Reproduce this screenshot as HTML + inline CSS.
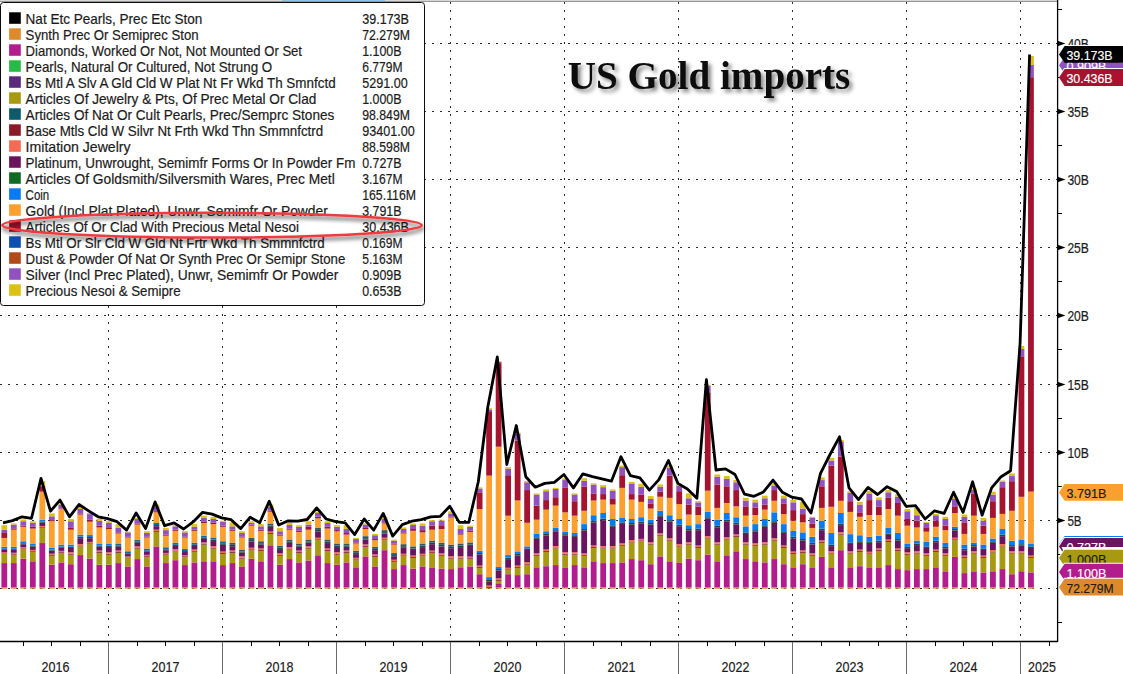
<!DOCTYPE html>
<html><head><meta charset="utf-8"><title>US Gold imports</title>
<style>html,body{margin:0;padding:0;background:#fff;}body{width:1123px;height:674px;overflow:hidden;}svg{display:block;font-family:"Liberation Sans",sans-serif;}.t{font-size:14.1px;fill:#1c1c1c;stroke:#1c1c1c;stroke-width:0.2px;}.w{font-size:13px;fill:#fff;}.ttl{font-family:"Liberation Serif",serif;font-weight:bold;font-size:40px;fill:#0a0a0a;}</style></head><body>
<svg width="1123" height="674" viewBox="0 0 1123 674">
<defs><filter id="ts" x="-10%" y="-30%" width="125%" height="170%"><feGaussianBlur in="SourceAlpha" stdDeviation="2.2"/><feOffset dx="3" dy="3.2" result="b"/><feComponentTransfer><feFuncA type="linear" slope="0.5"/></feComponentTransfer><feMerge><feMergeNode/><feMergeNode in="SourceGraphic"/></feMerge></filter><filter id="es" x="-5%" y="-40%" width="110%" height="200%"><feGaussianBlur in="SourceAlpha" stdDeviation="2.1"/><feOffset dx="1" dy="3.4" result="b"/><feComponentTransfer><feFuncA type="linear" slope="0.72"/></feComponentTransfer><feMerge><feMergeNode/><feMergeNode in="SourceGraphic"/></feMerge></filter></defs>
<rect width="1123" height="674" fill="#fff"/>
<rect x="0" y="0" width="1123" height="1" fill="#d6d6d6"/><rect x="282" y="0" width="103" height="1" fill="#8cc4ec"/><rect x="0" y="1" width="1123" height="0.9" fill="#8c8c8c"/>
<g stroke="#2e2e2e" stroke-width="1" stroke-dasharray="2 6" fill="none" shape-rendering="crispEdges">
<line x1="0" y1="588.5" x2="1057.6" y2="588.5"/>
<line x1="0" y1="520.5" x2="1057.6" y2="520.5"/>
<line x1="0" y1="452.5" x2="1057.6" y2="452.5"/>
<line x1="0" y1="384.5" x2="1057.6" y2="384.5"/>
<line x1="0" y1="315.5" x2="1057.6" y2="315.5"/>
<line x1="0" y1="247.5" x2="1057.6" y2="247.5"/>
<line x1="0" y1="179.5" x2="1057.6" y2="179.5"/>
<line x1="0" y1="111.5" x2="1057.6" y2="111.5"/>
<line x1="0" y1="43.5" x2="1057.6" y2="43.5"/>
<line x1="108.5" y1="2" x2="108.5" y2="641.5"/>
<line x1="222.5" y1="2" x2="222.5" y2="641.5"/>
<line x1="336.5" y1="2" x2="336.5" y2="641.5"/>
<line x1="450.5" y1="2" x2="450.5" y2="641.5"/>
<line x1="564.5" y1="2" x2="564.5" y2="641.5"/>
<line x1="678.5" y1="2" x2="678.5" y2="641.5"/>
<line x1="792.5" y1="2" x2="792.5" y2="641.5"/>
<line x1="906.5" y1="2" x2="906.5" y2="641.5"/>
<line x1="1020.5" y1="2" x2="1020.5" y2="641.5"/>
</g>
<g>
<rect x="1.40" y="563.08" width="5.8" height="24.52" fill="#b21c8c"/>
<rect x="1.40" y="587.60" width="5.8" height="1.10" fill="#de8a2a"/>
<rect x="1.40" y="553.96" width="5.8" height="9.13" fill="#a89a10"/>
<rect x="1.40" y="553.34" width="5.8" height="0.61" fill="#8a1a28"/>
<rect x="1.40" y="552.32" width="5.8" height="1.02" fill="#f46a54"/>
<rect x="1.40" y="549.71" width="5.8" height="2.61" fill="#6a1460"/>
<rect x="1.40" y="548.84" width="5.8" height="0.87" fill="#23472c"/>
<rect x="1.40" y="546.83" width="5.8" height="2.00" fill="#0a7af0"/>
<rect x="1.40" y="537.93" width="5.8" height="8.90" fill="#fba02e"/>
<rect x="1.40" y="533.03" width="5.8" height="4.90" fill="#a5142f"/>
<rect x="1.40" y="529.70" width="5.8" height="3.34" fill="#9152c0"/>
<rect x="1.40" y="525.24" width="5.8" height="4.45" fill="#dcc112"/>
<rect x="10.91" y="563.08" width="5.8" height="24.52" fill="#b21c8c"/>
<rect x="10.91" y="587.60" width="5.8" height="1.10" fill="#de8a2a"/>
<rect x="10.91" y="554.62" width="5.8" height="8.46" fill="#a89a10"/>
<rect x="10.91" y="553.93" width="5.8" height="0.69" fill="#8a1a28"/>
<rect x="10.91" y="552.77" width="5.8" height="1.16" fill="#f46a54"/>
<rect x="10.91" y="549.82" width="5.8" height="2.95" fill="#6a1460"/>
<rect x="10.91" y="548.84" width="5.8" height="0.98" fill="#1f4f4c"/>
<rect x="10.91" y="546.83" width="5.8" height="2.00" fill="#0a7af0"/>
<rect x="10.91" y="529.70" width="5.8" height="17.14" fill="#fba02e"/>
<rect x="10.91" y="528.36" width="5.8" height="1.34" fill="#a5142f"/>
<rect x="10.91" y="524.58" width="5.8" height="3.78" fill="#9152c0"/>
<rect x="10.91" y="523.46" width="5.8" height="1.11" fill="#dcc112"/>
<rect x="20.41" y="558.63" width="5.8" height="28.97" fill="#b21c8c"/>
<rect x="20.41" y="587.60" width="5.8" height="1.10" fill="#de8a2a"/>
<rect x="20.41" y="549.06" width="5.8" height="9.57" fill="#a89a10"/>
<rect x="20.41" y="548.36" width="5.8" height="0.69" fill="#8a1a28"/>
<rect x="20.41" y="547.21" width="5.8" height="1.16" fill="#f46a54"/>
<rect x="20.41" y="544.26" width="5.8" height="2.95" fill="#6a1460"/>
<rect x="20.41" y="543.27" width="5.8" height="0.98" fill="#1f4f4c"/>
<rect x="20.41" y="541.27" width="5.8" height="2.00" fill="#0a7af0"/>
<rect x="20.41" y="526.80" width="5.8" height="14.47" fill="#fba02e"/>
<rect x="20.41" y="525.69" width="5.8" height="1.11" fill="#a5142f"/>
<rect x="20.41" y="521.24" width="5.8" height="4.45" fill="#9152c0"/>
<rect x="20.41" y="519.46" width="5.8" height="1.78" fill="#dcc112"/>
<rect x="29.92" y="561.30" width="5.8" height="26.30" fill="#b21c8c"/>
<rect x="29.92" y="587.60" width="5.8" height="1.10" fill="#de8a2a"/>
<rect x="29.92" y="551.95" width="5.8" height="9.35" fill="#a89a10"/>
<rect x="29.92" y="551.18" width="5.8" height="0.77" fill="#8a1a28"/>
<rect x="29.92" y="549.89" width="5.8" height="1.29" fill="#f46a54"/>
<rect x="29.92" y="546.59" width="5.8" height="3.29" fill="#6a1460"/>
<rect x="29.92" y="545.50" width="5.8" height="1.10" fill="#23472c"/>
<rect x="29.92" y="543.49" width="5.8" height="2.00" fill="#0a7af0"/>
<rect x="29.92" y="528.58" width="5.8" height="14.91" fill="#fba02e"/>
<rect x="29.92" y="526.80" width="5.8" height="1.78" fill="#a5142f"/>
<rect x="29.92" y="522.80" width="5.8" height="4.01" fill="#9152c0"/>
<rect x="29.92" y="521.24" width="5.8" height="1.56" fill="#dcc112"/>
<rect x="39.42" y="543.05" width="5.8" height="44.55" fill="#b21c8c"/>
<rect x="39.42" y="587.60" width="5.8" height="1.10" fill="#de8a2a"/>
<rect x="39.42" y="527.91" width="5.8" height="15.13" fill="#a89a10"/>
<rect x="39.42" y="527.17" width="5.8" height="0.75" fill="#8a1a28"/>
<rect x="39.42" y="525.92" width="5.8" height="1.25" fill="#f46a54"/>
<rect x="39.42" y="522.74" width="5.8" height="3.18" fill="#6a1460"/>
<rect x="39.42" y="521.68" width="5.8" height="1.06" fill="#1f4f4c"/>
<rect x="39.42" y="519.68" width="5.8" height="2.00" fill="#0a7af0"/>
<rect x="39.42" y="491.64" width="5.8" height="28.04" fill="#fba02e"/>
<rect x="39.42" y="486.74" width="5.8" height="4.90" fill="#a5142f"/>
<rect x="39.42" y="485.63" width="5.8" height="1.11" fill="#9152c0"/>
<rect x="39.42" y="481.18" width="5.8" height="4.45" fill="#dcc112"/>
<rect x="48.93" y="564.64" width="5.8" height="22.96" fill="#b21c8c"/>
<rect x="48.93" y="587.60" width="5.8" height="1.10" fill="#de8a2a"/>
<rect x="48.93" y="555.74" width="5.8" height="8.90" fill="#a89a10"/>
<rect x="48.93" y="554.99" width="5.8" height="0.75" fill="#8a1a28"/>
<rect x="48.93" y="553.74" width="5.8" height="1.25" fill="#f46a54"/>
<rect x="48.93" y="550.56" width="5.8" height="3.18" fill="#6a1460"/>
<rect x="48.93" y="549.50" width="5.8" height="1.06" fill="#1f4f4c"/>
<rect x="48.93" y="547.50" width="5.8" height="2.00" fill="#0a7af0"/>
<rect x="48.93" y="521.24" width="5.8" height="26.26" fill="#fba02e"/>
<rect x="48.93" y="520.12" width="5.8" height="1.11" fill="#a5142f"/>
<rect x="48.93" y="516.34" width="5.8" height="3.78" fill="#9152c0"/>
<rect x="48.93" y="513.45" width="5.8" height="2.89" fill="#dcc112"/>
<rect x="58.44" y="562.41" width="5.8" height="25.19" fill="#b21c8c"/>
<rect x="58.44" y="587.60" width="5.8" height="1.10" fill="#de8a2a"/>
<rect x="58.44" y="552.84" width="5.8" height="9.57" fill="#a89a10"/>
<rect x="58.44" y="552.09" width="5.8" height="0.75" fill="#8a1a28"/>
<rect x="58.44" y="550.85" width="5.8" height="1.25" fill="#f46a54"/>
<rect x="58.44" y="547.67" width="5.8" height="3.18" fill="#6a1460"/>
<rect x="58.44" y="546.61" width="5.8" height="1.06" fill="#23472c"/>
<rect x="58.44" y="544.61" width="5.8" height="2.00" fill="#0a7af0"/>
<rect x="58.44" y="509.00" width="5.8" height="35.61" fill="#fba02e"/>
<rect x="58.44" y="508.55" width="5.8" height="0.45" fill="#a5142f"/>
<rect x="58.44" y="504.54" width="5.8" height="4.01" fill="#9152c0"/>
<rect x="58.44" y="503.43" width="5.8" height="1.11" fill="#dcc112"/>
<rect x="67.94" y="564.19" width="5.8" height="23.41" fill="#b21c8c"/>
<rect x="67.94" y="587.60" width="5.8" height="1.10" fill="#de8a2a"/>
<rect x="67.94" y="554.62" width="5.8" height="9.57" fill="#a89a10"/>
<rect x="67.94" y="553.72" width="5.8" height="0.90" fill="#8a1a28"/>
<rect x="67.94" y="552.22" width="5.8" height="1.50" fill="#f46a54"/>
<rect x="67.94" y="547.97" width="5.8" height="4.25" fill="#6a1460"/>
<rect x="67.94" y="546.61" width="5.8" height="1.36" fill="#1f4f4c"/>
<rect x="67.94" y="544.61" width="5.8" height="2.00" fill="#0a7af0"/>
<rect x="67.94" y="529.70" width="5.8" height="14.91" fill="#fba02e"/>
<rect x="67.94" y="527.91" width="5.8" height="1.78" fill="#a5142f"/>
<rect x="67.94" y="521.24" width="5.8" height="6.68" fill="#9152c0"/>
<rect x="67.94" y="519.01" width="5.8" height="2.23" fill="#dcc112"/>
<rect x="77.45" y="555.07" width="5.8" height="32.53" fill="#b21c8c"/>
<rect x="77.45" y="587.60" width="5.8" height="1.10" fill="#de8a2a"/>
<rect x="77.45" y="546.39" width="5.8" height="8.68" fill="#a89a10"/>
<rect x="77.45" y="545.49" width="5.8" height="0.90" fill="#8a1a28"/>
<rect x="77.45" y="543.99" width="5.8" height="1.50" fill="#f46a54"/>
<rect x="77.45" y="538.19" width="5.8" height="5.79" fill="#6a1460"/>
<rect x="77.45" y="536.59" width="5.8" height="1.60" fill="#1f4f4c"/>
<rect x="77.45" y="534.59" width="5.8" height="2.00" fill="#0a7af0"/>
<rect x="77.45" y="514.56" width="5.8" height="20.03" fill="#fba02e"/>
<rect x="77.45" y="513.45" width="5.8" height="1.11" fill="#a5142f"/>
<rect x="77.45" y="509.00" width="5.8" height="4.45" fill="#9152c0"/>
<rect x="77.45" y="506.77" width="5.8" height="2.23" fill="#dcc112"/>
<rect x="86.95" y="558.63" width="5.8" height="28.97" fill="#b21c8c"/>
<rect x="86.95" y="587.60" width="5.8" height="1.10" fill="#de8a2a"/>
<rect x="86.95" y="544.16" width="5.8" height="14.47" fill="#a89a10"/>
<rect x="86.95" y="543.31" width="5.8" height="0.85" fill="#8a1a28"/>
<rect x="86.95" y="541.88" width="5.8" height="1.42" fill="#f46a54"/>
<rect x="86.95" y="538.25" width="5.8" height="3.63" fill="#6a1460"/>
<rect x="86.95" y="537.04" width="5.8" height="1.21" fill="#23472c"/>
<rect x="86.95" y="535.04" width="5.8" height="2.00" fill="#0a7af0"/>
<rect x="86.95" y="521.68" width="5.8" height="13.35" fill="#fba02e"/>
<rect x="86.95" y="519.46" width="5.8" height="2.23" fill="#a5142f"/>
<rect x="86.95" y="514.12" width="5.8" height="5.34" fill="#9152c0"/>
<rect x="86.95" y="513.00" width="5.8" height="1.11" fill="#dcc112"/>
<rect x="96.46" y="564.64" width="5.8" height="22.96" fill="#b21c8c"/>
<rect x="96.46" y="587.60" width="5.8" height="1.10" fill="#de8a2a"/>
<rect x="96.46" y="552.84" width="5.8" height="11.80" fill="#a89a10"/>
<rect x="96.46" y="551.96" width="5.8" height="0.88" fill="#8a1a28"/>
<rect x="96.46" y="550.49" width="5.8" height="1.47" fill="#f46a54"/>
<rect x="96.46" y="546.75" width="5.8" height="3.75" fill="#6a1460"/>
<rect x="96.46" y="545.50" width="5.8" height="1.25" fill="#1f4f4c"/>
<rect x="96.46" y="543.49" width="5.8" height="2.00" fill="#0a7af0"/>
<rect x="96.46" y="527.47" width="5.8" height="16.02" fill="#fba02e"/>
<rect x="96.46" y="525.69" width="5.8" height="1.78" fill="#a5142f"/>
<rect x="96.46" y="520.79" width="5.8" height="4.90" fill="#9152c0"/>
<rect x="96.46" y="519.01" width="5.8" height="1.78" fill="#dcc112"/>
<rect x="105.97" y="564.64" width="5.8" height="22.96" fill="#b21c8c"/>
<rect x="105.97" y="587.60" width="5.8" height="1.10" fill="#de8a2a"/>
<rect x="105.97" y="554.62" width="5.8" height="10.02" fill="#a89a10"/>
<rect x="105.97" y="553.72" width="5.8" height="0.90" fill="#8a1a28"/>
<rect x="105.97" y="552.22" width="5.8" height="1.50" fill="#f46a54"/>
<rect x="105.97" y="547.05" width="5.8" height="5.17" fill="#6a1460"/>
<rect x="105.97" y="545.50" width="5.8" height="1.55" fill="#1f4f4c"/>
<rect x="105.97" y="543.49" width="5.8" height="2.00" fill="#0a7af0"/>
<rect x="105.97" y="529.03" width="5.8" height="14.47" fill="#fba02e"/>
<rect x="105.97" y="527.25" width="5.8" height="1.78" fill="#a5142f"/>
<rect x="105.97" y="522.80" width="5.8" height="4.45" fill="#9152c0"/>
<rect x="105.97" y="521.24" width="5.8" height="1.56" fill="#dcc112"/>
<rect x="115.47" y="563.08" width="5.8" height="24.52" fill="#b21c8c"/>
<rect x="115.47" y="587.60" width="5.8" height="1.10" fill="#de8a2a"/>
<rect x="115.47" y="552.84" width="5.8" height="10.24" fill="#a89a10"/>
<rect x="115.47" y="551.96" width="5.8" height="0.88" fill="#8a1a28"/>
<rect x="115.47" y="550.49" width="5.8" height="1.47" fill="#f46a54"/>
<rect x="115.47" y="546.75" width="5.8" height="3.75" fill="#6a1460"/>
<rect x="115.47" y="545.50" width="5.8" height="1.25" fill="#23472c"/>
<rect x="115.47" y="543.49" width="5.8" height="2.00" fill="#0f6c98"/>
<rect x="115.47" y="533.48" width="5.8" height="10.02" fill="#fba02e"/>
<rect x="115.47" y="532.37" width="5.8" height="1.11" fill="#a5142f"/>
<rect x="115.47" y="527.91" width="5.8" height="4.45" fill="#9152c0"/>
<rect x="115.47" y="524.13" width="5.8" height="3.78" fill="#dcc112"/>
<rect x="124.98" y="566.42" width="5.8" height="21.18" fill="#b21c8c"/>
<rect x="124.98" y="587.60" width="5.8" height="1.10" fill="#de8a2a"/>
<rect x="124.98" y="557.96" width="5.8" height="8.46" fill="#a89a10"/>
<rect x="124.98" y="557.40" width="5.8" height="0.56" fill="#8a1a28"/>
<rect x="124.98" y="556.47" width="5.8" height="0.93" fill="#f46a54"/>
<rect x="124.98" y="554.08" width="5.8" height="2.38" fill="#6a1460"/>
<rect x="124.98" y="553.29" width="5.8" height="0.79" fill="#1f4f4c"/>
<rect x="124.98" y="551.28" width="5.8" height="2.00" fill="#0f6c98"/>
<rect x="124.98" y="537.48" width="5.8" height="13.80" fill="#fba02e"/>
<rect x="124.98" y="536.82" width="5.8" height="0.67" fill="#a5142f"/>
<rect x="124.98" y="532.37" width="5.8" height="4.45" fill="#9152c0"/>
<rect x="124.98" y="531.70" width="5.8" height="0.67" fill="#dcc112"/>
<rect x="134.48" y="559.07" width="5.8" height="28.53" fill="#b21c8c"/>
<rect x="134.48" y="587.60" width="5.8" height="1.10" fill="#de8a2a"/>
<rect x="134.48" y="548.61" width="5.8" height="10.46" fill="#a89a10"/>
<rect x="134.48" y="547.79" width="5.8" height="0.83" fill="#8a1a28"/>
<rect x="134.48" y="546.41" width="5.8" height="1.38" fill="#f46a54"/>
<rect x="134.48" y="542.89" width="5.8" height="3.52" fill="#6a1460"/>
<rect x="134.48" y="541.71" width="5.8" height="1.17" fill="#1f4f4c"/>
<rect x="134.48" y="539.71" width="5.8" height="2.00" fill="#0f6c98"/>
<rect x="134.48" y="524.58" width="5.8" height="15.13" fill="#fba02e"/>
<rect x="134.48" y="523.46" width="5.8" height="1.11" fill="#a5142f"/>
<rect x="134.48" y="519.01" width="5.8" height="4.45" fill="#9152c0"/>
<rect x="134.48" y="517.90" width="5.8" height="1.11" fill="#dcc112"/>
<rect x="143.99" y="566.42" width="5.8" height="21.18" fill="#b21c8c"/>
<rect x="143.99" y="587.60" width="5.8" height="1.10" fill="#de8a2a"/>
<rect x="143.99" y="556.85" width="5.8" height="9.57" fill="#a89a10"/>
<rect x="143.99" y="556.10" width="5.8" height="0.75" fill="#8a1a28"/>
<rect x="143.99" y="554.85" width="5.8" height="1.25" fill="#f46a54"/>
<rect x="143.99" y="551.68" width="5.8" height="3.18" fill="#6a1460"/>
<rect x="143.99" y="550.62" width="5.8" height="1.06" fill="#23472c"/>
<rect x="143.99" y="548.61" width="5.8" height="2.00" fill="#0f6c98"/>
<rect x="143.99" y="537.48" width="5.8" height="11.13" fill="#fba02e"/>
<rect x="143.99" y="536.82" width="5.8" height="0.67" fill="#a5142f"/>
<rect x="143.99" y="532.81" width="5.8" height="4.01" fill="#9152c0"/>
<rect x="143.99" y="531.25" width="5.8" height="1.56" fill="#dcc112"/>
<rect x="153.50" y="546.39" width="5.8" height="41.21" fill="#b21c8c"/>
<rect x="153.50" y="587.60" width="5.8" height="1.10" fill="#de8a2a"/>
<rect x="153.50" y="531.92" width="5.8" height="14.47" fill="#a89a10"/>
<rect x="153.50" y="531.09" width="5.8" height="0.83" fill="#8a1a28"/>
<rect x="153.50" y="529.71" width="5.8" height="1.38" fill="#f46a54"/>
<rect x="153.50" y="526.19" width="5.8" height="3.52" fill="#6a1460"/>
<rect x="153.50" y="525.02" width="5.8" height="1.17" fill="#1f4f4c"/>
<rect x="153.50" y="523.02" width="5.8" height="2.00" fill="#0f6c98"/>
<rect x="153.50" y="512.33" width="5.8" height="10.68" fill="#fba02e"/>
<rect x="153.50" y="511.22" width="5.8" height="1.11" fill="#a5142f"/>
<rect x="153.50" y="506.33" width="5.8" height="4.90" fill="#9152c0"/>
<rect x="153.50" y="504.54" width="5.8" height="1.78" fill="#dcc112"/>
<rect x="163.00" y="563.08" width="5.8" height="24.52" fill="#b21c8c"/>
<rect x="163.00" y="587.60" width="5.8" height="1.10" fill="#de8a2a"/>
<rect x="163.00" y="554.62" width="5.8" height="8.46" fill="#a89a10"/>
<rect x="163.00" y="553.98" width="5.8" height="0.64" fill="#8a1a28"/>
<rect x="163.00" y="552.91" width="5.8" height="1.07" fill="#f46a54"/>
<rect x="163.00" y="550.19" width="5.8" height="2.72" fill="#6a1460"/>
<rect x="163.00" y="549.28" width="5.8" height="0.91" fill="#1f4f4c"/>
<rect x="163.00" y="547.28" width="5.8" height="2.00" fill="#0f6c98"/>
<rect x="163.00" y="535.70" width="5.8" height="11.57" fill="#fba02e"/>
<rect x="163.00" y="534.59" width="5.8" height="1.11" fill="#a5142f"/>
<rect x="163.00" y="530.14" width="5.8" height="4.45" fill="#9152c0"/>
<rect x="163.00" y="527.91" width="5.8" height="2.23" fill="#dcc112"/>
<rect x="172.51" y="560.19" width="5.8" height="27.41" fill="#b21c8c"/>
<rect x="172.51" y="587.60" width="5.8" height="1.10" fill="#de8a2a"/>
<rect x="172.51" y="551.28" width="5.8" height="8.90" fill="#a89a10"/>
<rect x="172.51" y="550.51" width="5.8" height="0.77" fill="#8a1a28"/>
<rect x="172.51" y="549.22" width="5.8" height="1.29" fill="#f46a54"/>
<rect x="172.51" y="545.93" width="5.8" height="3.29" fill="#6a1460"/>
<rect x="172.51" y="544.83" width="5.8" height="1.10" fill="#23472c"/>
<rect x="172.51" y="542.83" width="5.8" height="2.00" fill="#0f6c98"/>
<rect x="172.51" y="530.81" width="5.8" height="12.02" fill="#fba02e"/>
<rect x="172.51" y="529.70" width="5.8" height="1.11" fill="#a5142f"/>
<rect x="172.51" y="526.36" width="5.8" height="3.34" fill="#9152c0"/>
<rect x="172.51" y="525.24" width="5.8" height="1.11" fill="#dcc112"/>
<rect x="182.01" y="565.08" width="5.8" height="22.52" fill="#b21c8c"/>
<rect x="182.01" y="587.60" width="5.8" height="1.10" fill="#de8a2a"/>
<rect x="182.01" y="556.85" width="5.8" height="8.24" fill="#a89a10"/>
<rect x="182.01" y="556.15" width="5.8" height="0.69" fill="#8a1a28"/>
<rect x="182.01" y="555.00" width="5.8" height="1.16" fill="#f46a54"/>
<rect x="182.01" y="552.05" width="5.8" height="2.95" fill="#6a1460"/>
<rect x="182.01" y="551.06" width="5.8" height="0.98" fill="#1f4f4c"/>
<rect x="182.01" y="549.06" width="5.8" height="2.00" fill="#0f6c98"/>
<rect x="182.01" y="537.48" width="5.8" height="11.57" fill="#fba02e"/>
<rect x="182.01" y="536.82" width="5.8" height="0.67" fill="#a5142f"/>
<rect x="182.01" y="532.37" width="5.8" height="4.45" fill="#9152c0"/>
<rect x="182.01" y="531.25" width="5.8" height="1.11" fill="#dcc112"/>
<rect x="191.52" y="562.41" width="5.8" height="25.19" fill="#b21c8c"/>
<rect x="191.52" y="587.60" width="5.8" height="1.10" fill="#de8a2a"/>
<rect x="191.52" y="551.73" width="5.8" height="10.68" fill="#a89a10"/>
<rect x="191.52" y="550.90" width="5.8" height="0.83" fill="#8a1a28"/>
<rect x="191.52" y="549.52" width="5.8" height="1.38" fill="#f46a54"/>
<rect x="191.52" y="546.00" width="5.8" height="3.52" fill="#6a1460"/>
<rect x="191.52" y="544.83" width="5.8" height="1.17" fill="#1f4f4c"/>
<rect x="191.52" y="542.83" width="5.8" height="2.00" fill="#0f6c98"/>
<rect x="191.52" y="530.81" width="5.8" height="12.02" fill="#fba02e"/>
<rect x="191.52" y="529.70" width="5.8" height="1.11" fill="#a5142f"/>
<rect x="191.52" y="526.80" width="5.8" height="2.89" fill="#9152c0"/>
<rect x="191.52" y="524.13" width="5.8" height="2.67" fill="#dcc112"/>
<rect x="201.03" y="561.30" width="5.8" height="26.30" fill="#b21c8c"/>
<rect x="201.03" y="587.60" width="5.8" height="1.10" fill="#de8a2a"/>
<rect x="201.03" y="544.61" width="5.8" height="16.69" fill="#a89a10"/>
<rect x="201.03" y="543.78" width="5.8" height="0.83" fill="#8a1a28"/>
<rect x="201.03" y="542.40" width="5.8" height="1.38" fill="#f46a54"/>
<rect x="201.03" y="538.88" width="5.8" height="3.52" fill="#6a1460"/>
<rect x="201.03" y="537.71" width="5.8" height="1.17" fill="#23472c"/>
<rect x="201.03" y="535.70" width="5.8" height="2.00" fill="#0f6c98"/>
<rect x="201.03" y="523.02" width="5.8" height="12.69" fill="#fba02e"/>
<rect x="201.03" y="521.91" width="5.8" height="1.11" fill="#a5142f"/>
<rect x="201.03" y="517.90" width="5.8" height="4.01" fill="#9152c0"/>
<rect x="201.03" y="515.67" width="5.8" height="2.23" fill="#dcc112"/>
<rect x="210.53" y="561.30" width="5.8" height="26.30" fill="#b21c8c"/>
<rect x="210.53" y="587.60" width="5.8" height="1.10" fill="#de8a2a"/>
<rect x="210.53" y="548.61" width="5.8" height="12.69" fill="#a89a10"/>
<rect x="210.53" y="547.71" width="5.8" height="0.90" fill="#8a1a28"/>
<rect x="210.53" y="546.21" width="5.8" height="1.50" fill="#f46a54"/>
<rect x="210.53" y="541.04" width="5.8" height="5.17" fill="#6a1460"/>
<rect x="210.53" y="539.49" width="5.8" height="1.55" fill="#1f4f4c"/>
<rect x="210.53" y="537.48" width="5.8" height="2.00" fill="#0f6c98"/>
<rect x="210.53" y="524.13" width="5.8" height="13.35" fill="#fba02e"/>
<rect x="210.53" y="522.80" width="5.8" height="1.34" fill="#a5142f"/>
<rect x="210.53" y="519.01" width="5.8" height="3.78" fill="#9152c0"/>
<rect x="210.53" y="516.79" width="5.8" height="2.23" fill="#dcc112"/>
<rect x="220.04" y="565.08" width="5.8" height="22.52" fill="#b21c8c"/>
<rect x="220.04" y="587.60" width="5.8" height="1.10" fill="#de8a2a"/>
<rect x="220.04" y="553.96" width="5.8" height="11.13" fill="#a89a10"/>
<rect x="220.04" y="553.06" width="5.8" height="0.90" fill="#8a1a28"/>
<rect x="220.04" y="551.56" width="5.8" height="1.50" fill="#f46a54"/>
<rect x="220.04" y="544.87" width="5.8" height="6.68" fill="#6a1460"/>
<rect x="220.04" y="543.27" width="5.8" height="1.60" fill="#1f4f4c"/>
<rect x="220.04" y="541.27" width="5.8" height="2.00" fill="#0f6c98"/>
<rect x="220.04" y="526.80" width="5.8" height="14.47" fill="#fba02e"/>
<rect x="220.04" y="525.69" width="5.8" height="1.11" fill="#a5142f"/>
<rect x="220.04" y="521.91" width="5.8" height="3.78" fill="#9152c0"/>
<rect x="220.04" y="520.79" width="5.8" height="1.11" fill="#dcc112"/>
<rect x="229.54" y="563.08" width="5.8" height="24.52" fill="#b21c8c"/>
<rect x="229.54" y="587.60" width="5.8" height="1.10" fill="#de8a2a"/>
<rect x="229.54" y="552.84" width="5.8" height="10.24" fill="#a89a10"/>
<rect x="229.54" y="551.94" width="5.8" height="0.90" fill="#8a1a28"/>
<rect x="229.54" y="550.44" width="5.8" height="1.50" fill="#f46a54"/>
<rect x="229.54" y="546.19" width="5.8" height="4.25" fill="#6a1460"/>
<rect x="229.54" y="544.83" width="5.8" height="1.36" fill="#23472c"/>
<rect x="229.54" y="542.83" width="5.8" height="2.00" fill="#2e5866"/>
<rect x="229.54" y="530.81" width="5.8" height="12.02" fill="#fba02e"/>
<rect x="229.54" y="529.70" width="5.8" height="1.11" fill="#a5142f"/>
<rect x="229.54" y="526.36" width="5.8" height="3.34" fill="#9152c0"/>
<rect x="229.54" y="522.35" width="5.8" height="4.01" fill="#dcc112"/>
<rect x="239.05" y="566.42" width="5.8" height="21.18" fill="#b21c8c"/>
<rect x="239.05" y="587.60" width="5.8" height="1.10" fill="#de8a2a"/>
<rect x="239.05" y="558.63" width="5.8" height="7.79" fill="#a89a10"/>
<rect x="239.05" y="557.77" width="5.8" height="0.85" fill="#8a1a28"/>
<rect x="239.05" y="556.35" width="5.8" height="1.42" fill="#f46a54"/>
<rect x="239.05" y="552.72" width="5.8" height="3.63" fill="#6a1460"/>
<rect x="239.05" y="551.51" width="5.8" height="1.21" fill="#1f4f4c"/>
<rect x="239.05" y="549.50" width="5.8" height="2.00" fill="#2e5866"/>
<rect x="239.05" y="537.48" width="5.8" height="12.02" fill="#fba02e"/>
<rect x="239.05" y="536.82" width="5.8" height="0.67" fill="#a5142f"/>
<rect x="239.05" y="533.03" width="5.8" height="3.78" fill="#9152c0"/>
<rect x="239.05" y="531.25" width="5.8" height="1.78" fill="#dcc112"/>
<rect x="248.56" y="558.63" width="5.8" height="28.97" fill="#b21c8c"/>
<rect x="248.56" y="587.60" width="5.8" height="1.10" fill="#de8a2a"/>
<rect x="248.56" y="550.17" width="5.8" height="8.46" fill="#a89a10"/>
<rect x="248.56" y="549.27" width="5.8" height="0.90" fill="#8a1a28"/>
<rect x="248.56" y="547.77" width="5.8" height="1.50" fill="#f46a54"/>
<rect x="248.56" y="541.53" width="5.8" height="6.24" fill="#6a1460"/>
<rect x="248.56" y="539.93" width="5.8" height="1.60" fill="#1f4f4c"/>
<rect x="248.56" y="537.93" width="5.8" height="2.00" fill="#2e5866"/>
<rect x="248.56" y="525.69" width="5.8" height="12.24" fill="#fba02e"/>
<rect x="248.56" y="524.58" width="5.8" height="1.11" fill="#a5142f"/>
<rect x="248.56" y="522.80" width="5.8" height="1.78" fill="#9152c0"/>
<rect x="248.56" y="521.24" width="5.8" height="1.56" fill="#dcc112"/>
<rect x="258.06" y="561.30" width="5.8" height="26.30" fill="#b21c8c"/>
<rect x="258.06" y="587.60" width="5.8" height="1.10" fill="#de8a2a"/>
<rect x="258.06" y="550.84" width="5.8" height="10.46" fill="#a89a10"/>
<rect x="258.06" y="549.94" width="5.8" height="0.90" fill="#8a1a28"/>
<rect x="258.06" y="548.44" width="5.8" height="1.50" fill="#f46a54"/>
<rect x="258.06" y="544.56" width="5.8" height="3.88" fill="#6a1460"/>
<rect x="258.06" y="543.27" width="5.8" height="1.29" fill="#23472c"/>
<rect x="258.06" y="541.27" width="5.8" height="2.00" fill="#2e5866"/>
<rect x="258.06" y="530.81" width="5.8" height="10.46" fill="#fba02e"/>
<rect x="258.06" y="529.70" width="5.8" height="1.11" fill="#a5142f"/>
<rect x="258.06" y="526.36" width="5.8" height="3.34" fill="#9152c0"/>
<rect x="258.06" y="524.13" width="5.8" height="2.23" fill="#dcc112"/>
<rect x="267.57" y="545.27" width="5.8" height="42.33" fill="#b21c8c"/>
<rect x="267.57" y="587.60" width="5.8" height="1.10" fill="#de8a2a"/>
<rect x="267.57" y="533.92" width="5.8" height="11.35" fill="#a89a10"/>
<rect x="267.57" y="533.02" width="5.8" height="0.90" fill="#8a1a28"/>
<rect x="267.57" y="531.52" width="5.8" height="1.50" fill="#f46a54"/>
<rect x="267.57" y="526.90" width="5.8" height="4.62" fill="#6a1460"/>
<rect x="267.57" y="525.47" width="5.8" height="1.44" fill="#1f4f4c"/>
<rect x="267.57" y="523.46" width="5.8" height="2.00" fill="#2e5866"/>
<rect x="267.57" y="511.67" width="5.8" height="11.80" fill="#fba02e"/>
<rect x="267.57" y="510.78" width="5.8" height="0.89" fill="#a5142f"/>
<rect x="267.57" y="506.77" width="5.8" height="4.01" fill="#9152c0"/>
<rect x="267.57" y="504.54" width="5.8" height="2.23" fill="#dcc112"/>
<rect x="277.07" y="564.64" width="5.8" height="22.96" fill="#b21c8c"/>
<rect x="277.07" y="587.60" width="5.8" height="1.10" fill="#de8a2a"/>
<rect x="277.07" y="555.74" width="5.8" height="8.90" fill="#a89a10"/>
<rect x="277.07" y="554.84" width="5.8" height="0.90" fill="#8a1a28"/>
<rect x="277.07" y="553.34" width="5.8" height="1.50" fill="#f46a54"/>
<rect x="277.07" y="549.09" width="5.8" height="4.25" fill="#6a1460"/>
<rect x="277.07" y="547.72" width="5.8" height="1.36" fill="#1f4f4c"/>
<rect x="277.07" y="545.72" width="5.8" height="2.00" fill="#2e5866"/>
<rect x="277.07" y="535.70" width="5.8" height="10.02" fill="#fba02e"/>
<rect x="277.07" y="534.59" width="5.8" height="1.11" fill="#a5142f"/>
<rect x="277.07" y="531.25" width="5.8" height="3.34" fill="#9152c0"/>
<rect x="277.07" y="527.91" width="5.8" height="3.34" fill="#dcc112"/>
<rect x="286.58" y="559.07" width="5.8" height="28.53" fill="#b21c8c"/>
<rect x="286.58" y="587.60" width="5.8" height="1.10" fill="#de8a2a"/>
<rect x="286.58" y="549.50" width="5.8" height="9.57" fill="#a89a10"/>
<rect x="286.58" y="548.60" width="5.8" height="0.90" fill="#8a1a28"/>
<rect x="286.58" y="547.10" width="5.8" height="1.50" fill="#f46a54"/>
<rect x="286.58" y="542.85" width="5.8" height="4.25" fill="#6a1460"/>
<rect x="286.58" y="541.49" width="5.8" height="1.36" fill="#23472c"/>
<rect x="286.58" y="539.49" width="5.8" height="2.00" fill="#2e5866"/>
<rect x="286.58" y="529.70" width="5.8" height="9.79" fill="#fba02e"/>
<rect x="286.58" y="528.58" width="5.8" height="1.11" fill="#a5142f"/>
<rect x="286.58" y="525.02" width="5.8" height="3.56" fill="#9152c0"/>
<rect x="286.58" y="522.80" width="5.8" height="2.23" fill="#dcc112"/>
<rect x="296.09" y="562.41" width="5.8" height="25.19" fill="#b21c8c"/>
<rect x="296.09" y="587.60" width="5.8" height="1.10" fill="#de8a2a"/>
<rect x="296.09" y="552.84" width="5.8" height="9.57" fill="#a89a10"/>
<rect x="296.09" y="551.96" width="5.8" height="0.88" fill="#8a1a28"/>
<rect x="296.09" y="550.49" width="5.8" height="1.47" fill="#f46a54"/>
<rect x="296.09" y="546.75" width="5.8" height="3.75" fill="#6a1460"/>
<rect x="296.09" y="545.50" width="5.8" height="1.25" fill="#1f4f4c"/>
<rect x="296.09" y="543.49" width="5.8" height="2.00" fill="#2e5866"/>
<rect x="296.09" y="531.92" width="5.8" height="11.57" fill="#fba02e"/>
<rect x="296.09" y="530.81" width="5.8" height="1.11" fill="#a5142f"/>
<rect x="296.09" y="526.80" width="5.8" height="4.01" fill="#9152c0"/>
<rect x="296.09" y="525.24" width="5.8" height="1.56" fill="#dcc112"/>
<rect x="305.59" y="560.63" width="5.8" height="26.97" fill="#b21c8c"/>
<rect x="305.59" y="587.60" width="5.8" height="1.10" fill="#de8a2a"/>
<rect x="305.59" y="548.61" width="5.8" height="12.02" fill="#a89a10"/>
<rect x="305.59" y="547.76" width="5.8" height="0.85" fill="#8a1a28"/>
<rect x="305.59" y="546.33" width="5.8" height="1.42" fill="#f46a54"/>
<rect x="305.59" y="542.70" width="5.8" height="3.63" fill="#6a1460"/>
<rect x="305.59" y="541.49" width="5.8" height="1.21" fill="#1f4f4c"/>
<rect x="305.59" y="539.49" width="5.8" height="2.00" fill="#2e5866"/>
<rect x="305.59" y="529.70" width="5.8" height="9.79" fill="#fba02e"/>
<rect x="305.59" y="526.80" width="5.8" height="2.89" fill="#a5142f"/>
<rect x="305.59" y="524.58" width="5.8" height="2.23" fill="#9152c0"/>
<rect x="305.59" y="521.24" width="5.8" height="3.34" fill="#dcc112"/>
<rect x="315.10" y="555.29" width="5.8" height="32.31" fill="#b21c8c"/>
<rect x="315.10" y="587.60" width="5.8" height="1.10" fill="#de8a2a"/>
<rect x="315.10" y="540.16" width="5.8" height="15.13" fill="#a89a10"/>
<rect x="315.10" y="539.26" width="5.8" height="0.90" fill="#8a1a28"/>
<rect x="315.10" y="537.76" width="5.8" height="1.50" fill="#f46a54"/>
<rect x="315.10" y="531.52" width="5.8" height="6.24" fill="#6a1460"/>
<rect x="315.10" y="529.92" width="5.8" height="1.60" fill="#23472c"/>
<rect x="315.10" y="527.91" width="5.8" height="2.00" fill="#2e5866"/>
<rect x="315.10" y="518.34" width="5.8" height="9.57" fill="#fba02e"/>
<rect x="315.10" y="516.79" width="5.8" height="1.56" fill="#a5142f"/>
<rect x="315.10" y="513.00" width="5.8" height="3.78" fill="#9152c0"/>
<rect x="315.10" y="511.67" width="5.8" height="1.34" fill="#dcc112"/>
<rect x="324.60" y="563.08" width="5.8" height="24.52" fill="#b21c8c"/>
<rect x="324.60" y="587.60" width="5.8" height="1.10" fill="#de8a2a"/>
<rect x="324.60" y="550.84" width="5.8" height="12.24" fill="#a89a10"/>
<rect x="324.60" y="549.94" width="5.8" height="0.90" fill="#8a1a28"/>
<rect x="324.60" y="548.44" width="5.8" height="1.50" fill="#f46a54"/>
<rect x="324.60" y="543.08" width="5.8" height="5.36" fill="#6a1460"/>
<rect x="324.60" y="541.49" width="5.8" height="1.59" fill="#1f4f4c"/>
<rect x="324.60" y="539.49" width="5.8" height="2.00" fill="#2e5866"/>
<rect x="324.60" y="528.58" width="5.8" height="10.91" fill="#fba02e"/>
<rect x="324.60" y="526.80" width="5.8" height="1.78" fill="#a5142f"/>
<rect x="324.60" y="523.02" width="5.8" height="3.78" fill="#9152c0"/>
<rect x="324.60" y="521.24" width="5.8" height="1.78" fill="#dcc112"/>
<rect x="334.11" y="564.64" width="5.8" height="22.96" fill="#b21c8c"/>
<rect x="334.11" y="587.60" width="5.8" height="1.10" fill="#de8a2a"/>
<rect x="334.11" y="554.62" width="5.8" height="10.02" fill="#a89a10"/>
<rect x="334.11" y="553.72" width="5.8" height="0.90" fill="#8a1a28"/>
<rect x="334.11" y="552.22" width="5.8" height="1.50" fill="#f46a54"/>
<rect x="334.11" y="547.05" width="5.8" height="5.17" fill="#6a1460"/>
<rect x="334.11" y="545.50" width="5.8" height="1.55" fill="#1f4f4c"/>
<rect x="334.11" y="543.49" width="5.8" height="2.00" fill="#2e5866"/>
<rect x="334.11" y="531.25" width="5.8" height="12.24" fill="#fba02e"/>
<rect x="334.11" y="530.14" width="5.8" height="1.11" fill="#a5142f"/>
<rect x="334.11" y="526.80" width="5.8" height="3.34" fill="#9152c0"/>
<rect x="334.11" y="525.24" width="5.8" height="1.56" fill="#dcc112"/>
<rect x="343.62" y="562.41" width="5.8" height="25.19" fill="#b21c8c"/>
<rect x="343.62" y="587.60" width="5.8" height="1.10" fill="#de8a2a"/>
<rect x="343.62" y="552.84" width="5.8" height="9.57" fill="#a89a10"/>
<rect x="343.62" y="551.96" width="5.8" height="0.88" fill="#8a1a28"/>
<rect x="343.62" y="550.49" width="5.8" height="1.47" fill="#f46a54"/>
<rect x="343.62" y="546.75" width="5.8" height="3.75" fill="#6a1460"/>
<rect x="343.62" y="545.50" width="5.8" height="1.25" fill="#23472c"/>
<rect x="343.62" y="543.49" width="5.8" height="2.00" fill="#2e5866"/>
<rect x="343.62" y="534.59" width="5.8" height="8.90" fill="#fba02e"/>
<rect x="343.62" y="533.03" width="5.8" height="1.56" fill="#a5142f"/>
<rect x="343.62" y="529.03" width="5.8" height="4.01" fill="#9152c0"/>
<rect x="343.62" y="525.24" width="5.8" height="3.78" fill="#dcc112"/>
<rect x="353.12" y="567.31" width="5.8" height="20.29" fill="#b21c8c"/>
<rect x="353.12" y="587.60" width="5.8" height="1.10" fill="#de8a2a"/>
<rect x="353.12" y="560.19" width="5.8" height="7.12" fill="#a89a10"/>
<rect x="353.12" y="559.31" width="5.8" height="0.88" fill="#8a1a28"/>
<rect x="353.12" y="557.84" width="5.8" height="1.47" fill="#f46a54"/>
<rect x="353.12" y="554.09" width="5.8" height="3.75" fill="#6a1460"/>
<rect x="353.12" y="552.84" width="5.8" height="1.25" fill="#1f4f4c"/>
<rect x="353.12" y="550.84" width="5.8" height="2.00" fill="#2e5866"/>
<rect x="353.12" y="543.49" width="5.8" height="7.34" fill="#fba02e"/>
<rect x="353.12" y="542.38" width="5.8" height="1.11" fill="#a5142f"/>
<rect x="353.12" y="539.04" width="5.8" height="3.34" fill="#9152c0"/>
<rect x="353.12" y="537.93" width="5.8" height="1.11" fill="#dcc112"/>
<rect x="362.63" y="556.40" width="5.8" height="31.20" fill="#b21c8c"/>
<rect x="362.63" y="587.60" width="5.8" height="1.10" fill="#de8a2a"/>
<rect x="362.63" y="546.83" width="5.8" height="9.57" fill="#a89a10"/>
<rect x="362.63" y="545.93" width="5.8" height="0.90" fill="#8a1a28"/>
<rect x="362.63" y="544.43" width="5.8" height="1.50" fill="#f46a54"/>
<rect x="362.63" y="539.63" width="5.8" height="4.80" fill="#6a1460"/>
<rect x="362.63" y="538.15" width="5.8" height="1.48" fill="#1f4f4c"/>
<rect x="362.63" y="536.15" width="5.8" height="2.00" fill="#2e5866"/>
<rect x="362.63" y="529.03" width="5.8" height="7.12" fill="#fba02e"/>
<rect x="362.63" y="527.91" width="5.8" height="1.11" fill="#a5142f"/>
<rect x="362.63" y="524.58" width="5.8" height="3.34" fill="#9152c0"/>
<rect x="362.63" y="523.46" width="5.8" height="1.11" fill="#dcc112"/>
<rect x="372.13" y="566.42" width="5.8" height="21.18" fill="#b21c8c"/>
<rect x="372.13" y="587.60" width="5.8" height="1.10" fill="#de8a2a"/>
<rect x="372.13" y="556.85" width="5.8" height="9.57" fill="#a89a10"/>
<rect x="372.13" y="555.95" width="5.8" height="0.90" fill="#8a1a28"/>
<rect x="372.13" y="554.45" width="5.8" height="1.50" fill="#f46a54"/>
<rect x="372.13" y="550.20" width="5.8" height="4.25" fill="#6a1460"/>
<rect x="372.13" y="548.84" width="5.8" height="1.36" fill="#23472c"/>
<rect x="372.13" y="546.83" width="5.8" height="2.00" fill="#2e5866"/>
<rect x="372.13" y="540.16" width="5.8" height="6.68" fill="#fba02e"/>
<rect x="372.13" y="539.04" width="5.8" height="1.11" fill="#a5142f"/>
<rect x="372.13" y="535.26" width="5.8" height="3.78" fill="#9152c0"/>
<rect x="372.13" y="533.92" width="5.8" height="1.34" fill="#dcc112"/>
<rect x="381.64" y="550.17" width="5.8" height="37.43" fill="#b21c8c"/>
<rect x="381.64" y="587.60" width="5.8" height="1.10" fill="#de8a2a"/>
<rect x="381.64" y="540.16" width="5.8" height="10.02" fill="#a89a10"/>
<rect x="381.64" y="539.26" width="5.8" height="0.90" fill="#8a1a28"/>
<rect x="381.64" y="537.76" width="5.8" height="1.50" fill="#f46a54"/>
<rect x="381.64" y="533.51" width="5.8" height="4.25" fill="#6a1460"/>
<rect x="381.64" y="532.14" width="5.8" height="1.36" fill="#1f4f4c"/>
<rect x="381.64" y="530.14" width="5.8" height="2.00" fill="#2e5866"/>
<rect x="381.64" y="523.46" width="5.8" height="6.68" fill="#fba02e"/>
<rect x="381.64" y="522.35" width="5.8" height="1.11" fill="#a5142f"/>
<rect x="381.64" y="519.01" width="5.8" height="3.34" fill="#9152c0"/>
<rect x="381.64" y="516.79" width="5.8" height="2.23" fill="#dcc112"/>
<rect x="391.15" y="569.09" width="5.8" height="18.51" fill="#b21c8c"/>
<rect x="391.15" y="587.60" width="5.8" height="1.10" fill="#de8a2a"/>
<rect x="391.15" y="561.97" width="5.8" height="7.12" fill="#a89a10"/>
<rect x="391.15" y="561.14" width="5.8" height="0.83" fill="#8a1a28"/>
<rect x="391.15" y="559.76" width="5.8" height="1.38" fill="#f46a54"/>
<rect x="391.15" y="556.24" width="5.8" height="3.52" fill="#6a1460"/>
<rect x="391.15" y="555.07" width="5.8" height="1.17" fill="#1f4f4c"/>
<rect x="391.15" y="553.06" width="5.8" height="2.00" fill="#2e5866"/>
<rect x="391.15" y="544.61" width="5.8" height="8.46" fill="#fba02e"/>
<rect x="391.15" y="543.49" width="5.8" height="1.11" fill="#a5142f"/>
<rect x="391.15" y="540.60" width="5.8" height="2.89" fill="#9152c0"/>
<rect x="391.15" y="539.71" width="5.8" height="0.89" fill="#dcc112"/>
<rect x="400.65" y="565.08" width="5.8" height="22.52" fill="#b21c8c"/>
<rect x="400.65" y="587.60" width="5.8" height="1.10" fill="#de8a2a"/>
<rect x="400.65" y="556.18" width="5.8" height="8.90" fill="#a89a10"/>
<rect x="400.65" y="555.28" width="5.8" height="0.90" fill="#8a1a28"/>
<rect x="400.65" y="553.78" width="5.8" height="1.50" fill="#f46a54"/>
<rect x="400.65" y="547.77" width="5.8" height="6.02" fill="#6a1460"/>
<rect x="400.65" y="546.17" width="5.8" height="1.60" fill="#23472c"/>
<rect x="400.65" y="544.16" width="5.8" height="2.00" fill="#2e5866"/>
<rect x="400.65" y="533.48" width="5.8" height="10.68" fill="#fba02e"/>
<rect x="400.65" y="532.37" width="5.8" height="1.11" fill="#a5142f"/>
<rect x="400.65" y="529.03" width="5.8" height="3.34" fill="#9152c0"/>
<rect x="400.65" y="527.47" width="5.8" height="1.56" fill="#dcc112"/>
<rect x="410.16" y="568.64" width="5.8" height="18.96" fill="#b21c8c"/>
<rect x="410.16" y="587.60" width="5.8" height="1.10" fill="#de8a2a"/>
<rect x="410.16" y="557.96" width="5.8" height="10.68" fill="#a89a10"/>
<rect x="410.16" y="557.06" width="5.8" height="0.90" fill="#8a1a28"/>
<rect x="410.16" y="555.56" width="5.8" height="1.50" fill="#f46a54"/>
<rect x="410.16" y="549.99" width="5.8" height="5.57" fill="#6a1460"/>
<rect x="410.16" y="548.39" width="5.8" height="1.60" fill="#1f4f4c"/>
<rect x="410.16" y="546.39" width="5.8" height="2.00" fill="#2e5866"/>
<rect x="410.16" y="530.81" width="5.8" height="15.58" fill="#fba02e"/>
<rect x="410.16" y="529.03" width="5.8" height="1.78" fill="#a5142f"/>
<rect x="410.16" y="525.02" width="5.8" height="4.01" fill="#9152c0"/>
<rect x="410.16" y="523.46" width="5.8" height="1.56" fill="#dcc112"/>
<rect x="419.66" y="566.42" width="5.8" height="21.18" fill="#b21c8c"/>
<rect x="419.66" y="587.60" width="5.8" height="1.10" fill="#de8a2a"/>
<rect x="419.66" y="556.18" width="5.8" height="10.24" fill="#a89a10"/>
<rect x="419.66" y="555.28" width="5.8" height="0.90" fill="#8a1a28"/>
<rect x="419.66" y="553.78" width="5.8" height="1.50" fill="#f46a54"/>
<rect x="419.66" y="547.10" width="5.8" height="6.68" fill="#6a1460"/>
<rect x="419.66" y="545.50" width="5.8" height="1.60" fill="#1f4f4c"/>
<rect x="419.66" y="543.49" width="5.8" height="2.00" fill="#2e5866"/>
<rect x="419.66" y="532.37" width="5.8" height="11.13" fill="#fba02e"/>
<rect x="419.66" y="530.14" width="5.8" height="2.23" fill="#a5142f"/>
<rect x="419.66" y="525.69" width="5.8" height="4.45" fill="#9152c0"/>
<rect x="419.66" y="523.46" width="5.8" height="2.23" fill="#dcc112"/>
<rect x="429.17" y="567.98" width="5.8" height="19.62" fill="#b21c8c"/>
<rect x="429.17" y="587.60" width="5.8" height="1.10" fill="#de8a2a"/>
<rect x="429.17" y="553.06" width="5.8" height="14.91" fill="#a89a10"/>
<rect x="429.17" y="552.16" width="5.8" height="0.90" fill="#8a1a28"/>
<rect x="429.17" y="550.66" width="5.8" height="1.50" fill="#f46a54"/>
<rect x="429.17" y="544.20" width="5.8" height="6.46" fill="#6a1460"/>
<rect x="429.17" y="542.60" width="5.8" height="1.60" fill="#23472c"/>
<rect x="429.17" y="540.60" width="5.8" height="2.00" fill="#2e5866"/>
<rect x="429.17" y="529.70" width="5.8" height="10.91" fill="#fba02e"/>
<rect x="429.17" y="525.69" width="5.8" height="4.01" fill="#a5142f"/>
<rect x="429.17" y="521.24" width="5.8" height="4.45" fill="#9152c0"/>
<rect x="429.17" y="520.12" width="5.8" height="1.11" fill="#dcc112"/>
<rect x="438.68" y="568.64" width="5.8" height="18.96" fill="#b21c8c"/>
<rect x="438.68" y="587.60" width="5.8" height="1.10" fill="#de8a2a"/>
<rect x="438.68" y="555.74" width="5.8" height="12.91" fill="#a89a10"/>
<rect x="438.68" y="554.84" width="5.8" height="0.90" fill="#8a1a28"/>
<rect x="438.68" y="553.34" width="5.8" height="1.50" fill="#f46a54"/>
<rect x="438.68" y="546.43" width="5.8" height="6.91" fill="#6a1460"/>
<rect x="438.68" y="544.83" width="5.8" height="1.60" fill="#1f4f4c"/>
<rect x="438.68" y="542.83" width="5.8" height="2.00" fill="#2e5866"/>
<rect x="438.68" y="529.03" width="5.8" height="13.80" fill="#fba02e"/>
<rect x="438.68" y="525.24" width="5.8" height="3.78" fill="#a5142f"/>
<rect x="438.68" y="520.57" width="5.8" height="4.67" fill="#9152c0"/>
<rect x="438.68" y="519.68" width="5.8" height="0.89" fill="#dcc112"/>
<rect x="448.18" y="569.09" width="5.8" height="18.51" fill="#b21c8c"/>
<rect x="448.18" y="587.60" width="5.8" height="1.10" fill="#de8a2a"/>
<rect x="448.18" y="558.63" width="5.8" height="10.46" fill="#a89a10"/>
<rect x="448.18" y="557.73" width="5.8" height="0.90" fill="#8a1a28"/>
<rect x="448.18" y="556.23" width="5.8" height="1.50" fill="#f46a54"/>
<rect x="448.18" y="548.21" width="5.8" height="8.02" fill="#6a1460"/>
<rect x="448.18" y="546.61" width="5.8" height="1.60" fill="#1f4f4c"/>
<rect x="448.18" y="544.61" width="5.8" height="2.00" fill="#2e5866"/>
<rect x="448.18" y="517.45" width="5.8" height="27.15" fill="#fba02e"/>
<rect x="448.18" y="516.79" width="5.8" height="0.67" fill="#a5142f"/>
<rect x="448.18" y="513.45" width="5.8" height="3.34" fill="#9152c0"/>
<rect x="448.18" y="511.22" width="5.8" height="2.23" fill="#dcc112"/>
<rect x="457.69" y="567.31" width="5.8" height="20.29" fill="#b21c8c"/>
<rect x="457.69" y="587.60" width="5.8" height="1.10" fill="#de8a2a"/>
<rect x="457.69" y="558.63" width="5.8" height="8.68" fill="#a89a10"/>
<rect x="457.69" y="557.73" width="5.8" height="0.90" fill="#8a1a28"/>
<rect x="457.69" y="556.23" width="5.8" height="1.50" fill="#f46a54"/>
<rect x="457.69" y="547.10" width="5.8" height="9.13" fill="#6a1460"/>
<rect x="457.69" y="545.50" width="5.8" height="1.60" fill="#23472c"/>
<rect x="457.69" y="543.49" width="5.8" height="2.00" fill="#2e5866"/>
<rect x="457.69" y="534.59" width="5.8" height="8.90" fill="#fba02e"/>
<rect x="457.69" y="533.92" width="5.8" height="0.67" fill="#a5142f"/>
<rect x="457.69" y="529.03" width="5.8" height="4.90" fill="#9152c0"/>
<rect x="457.69" y="525.24" width="5.8" height="3.78" fill="#dcc112"/>
<rect x="467.19" y="566.42" width="5.8" height="21.18" fill="#b21c8c"/>
<rect x="467.19" y="587.60" width="5.8" height="1.10" fill="#de8a2a"/>
<rect x="467.19" y="559.07" width="5.8" height="7.34" fill="#a89a10"/>
<rect x="467.19" y="558.17" width="5.8" height="0.90" fill="#8a1a28"/>
<rect x="467.19" y="556.67" width="5.8" height="1.50" fill="#f46a54"/>
<rect x="467.19" y="545.98" width="5.8" height="10.69" fill="#6a1460"/>
<rect x="467.19" y="544.38" width="5.8" height="1.60" fill="#1f4f4c"/>
<rect x="467.19" y="542.38" width="5.8" height="2.00" fill="#2e5866"/>
<rect x="467.19" y="531.92" width="5.8" height="10.46" fill="#fba02e"/>
<rect x="467.19" y="530.81" width="5.8" height="1.11" fill="#a5142f"/>
<rect x="467.19" y="526.80" width="5.8" height="4.01" fill="#9152c0"/>
<rect x="467.19" y="525.69" width="5.8" height="1.11" fill="#dcc112"/>
<rect x="476.70" y="574.20" width="5.8" height="13.40" fill="#b21c8c"/>
<rect x="476.70" y="587.60" width="5.8" height="1.10" fill="#de8a2a"/>
<rect x="476.70" y="568.00" width="5.8" height="6.20" fill="#a89a10"/>
<rect x="476.70" y="567.10" width="5.8" height="0.90" fill="#8a1a28"/>
<rect x="476.70" y="565.60" width="5.8" height="1.50" fill="#f46a54"/>
<rect x="476.70" y="554.60" width="5.8" height="11.00" fill="#6a1460"/>
<rect x="476.70" y="553.00" width="5.8" height="1.60" fill="#1f4f4c"/>
<rect x="476.70" y="550.80" width="5.8" height="2.20" fill="#0a7af0"/>
<rect x="476.70" y="509.00" width="5.8" height="41.80" fill="#fba02e"/>
<rect x="476.70" y="492.30" width="5.8" height="16.70" fill="#a5142f"/>
<rect x="476.70" y="488.50" width="5.8" height="3.80" fill="#9152c0"/>
<rect x="476.70" y="487.40" width="5.8" height="1.10" fill="#dcc112"/>
<rect x="486.21" y="587.60" width="5.8" height="1.10" fill="#de8a2a"/>
<rect x="486.21" y="587.10" width="5.8" height="0.90" fill="#8a1a28"/>
<rect x="486.21" y="585.60" width="5.8" height="1.50" fill="#f46a54"/>
<rect x="486.21" y="581.36" width="5.8" height="4.24" fill="#6a1460"/>
<rect x="486.21" y="580.00" width="5.8" height="1.36" fill="#23472c"/>
<rect x="486.21" y="577.10" width="5.8" height="2.90" fill="#0a7af0"/>
<rect x="486.21" y="475.60" width="5.8" height="101.50" fill="#fba02e"/>
<rect x="486.21" y="411.20" width="5.8" height="64.40" fill="#a5142f"/>
<rect x="486.21" y="409.40" width="5.8" height="1.80" fill="#9152c0"/>
<rect x="486.21" y="408.20" width="5.8" height="1.20" fill="#dcc112"/>
<rect x="495.71" y="583.30" width="5.8" height="4.30" fill="#b21c8c"/>
<rect x="495.71" y="587.60" width="5.8" height="1.10" fill="#de8a2a"/>
<rect x="495.71" y="580.80" width="5.8" height="2.50" fill="#a89a10"/>
<rect x="495.71" y="579.90" width="5.8" height="0.90" fill="#8a1a28"/>
<rect x="495.71" y="578.40" width="5.8" height="1.50" fill="#f46a54"/>
<rect x="495.71" y="570.60" width="5.8" height="7.80" fill="#6a1460"/>
<rect x="495.71" y="569.00" width="5.8" height="1.60" fill="#1f4f4c"/>
<rect x="495.71" y="567.00" width="5.8" height="2.00" fill="#0a7af0"/>
<rect x="495.71" y="446.70" width="5.8" height="120.30" fill="#fba02e"/>
<rect x="495.71" y="363.10" width="5.8" height="83.60" fill="#a5142f"/>
<rect x="495.71" y="362.00" width="5.8" height="1.10" fill="#9152c0"/>
<rect x="495.71" y="361.40" width="5.8" height="0.60" fill="#dcc112"/>
<rect x="505.22" y="574.20" width="5.8" height="13.40" fill="#b21c8c"/>
<rect x="505.22" y="587.60" width="5.8" height="1.10" fill="#de8a2a"/>
<rect x="505.22" y="570.20" width="5.8" height="4.00" fill="#a89a10"/>
<rect x="505.22" y="569.30" width="5.8" height="0.90" fill="#8a1a28"/>
<rect x="505.22" y="567.80" width="5.8" height="1.50" fill="#f46a54"/>
<rect x="505.22" y="559.10" width="5.8" height="8.70" fill="#6a1460"/>
<rect x="505.22" y="557.50" width="5.8" height="1.60" fill="#1f4f4c"/>
<rect x="505.22" y="555.10" width="5.8" height="2.40" fill="#0a7af0"/>
<rect x="505.22" y="515.70" width="5.8" height="39.40" fill="#fba02e"/>
<rect x="505.22" y="475.20" width="5.8" height="40.50" fill="#a5142f"/>
<rect x="505.22" y="468.50" width="5.8" height="6.70" fill="#9152c0"/>
<rect x="505.22" y="467.20" width="5.8" height="1.30" fill="#dcc112"/>
<rect x="514.72" y="575.10" width="5.8" height="12.50" fill="#b21c8c"/>
<rect x="514.72" y="587.60" width="5.8" height="1.10" fill="#de8a2a"/>
<rect x="514.72" y="568.00" width="5.8" height="7.10" fill="#a89a10"/>
<rect x="514.72" y="567.10" width="5.8" height="0.90" fill="#8a1a28"/>
<rect x="514.72" y="565.60" width="5.8" height="1.50" fill="#f46a54"/>
<rect x="514.72" y="555.50" width="5.8" height="10.10" fill="#6a1460"/>
<rect x="514.72" y="553.90" width="5.8" height="1.60" fill="#23472c"/>
<rect x="514.72" y="551.40" width="5.8" height="2.50" fill="#0a7af0"/>
<rect x="514.72" y="500.50" width="5.8" height="50.90" fill="#fba02e"/>
<rect x="514.72" y="440.60" width="5.8" height="59.90" fill="#a5142f"/>
<rect x="514.72" y="433.50" width="5.8" height="7.10" fill="#9152c0"/>
<rect x="514.72" y="432.60" width="5.8" height="0.90" fill="#dcc112"/>
<rect x="524.23" y="574.21" width="5.8" height="13.39" fill="#b21c8c"/>
<rect x="524.23" y="587.60" width="5.8" height="1.10" fill="#de8a2a"/>
<rect x="524.23" y="564.64" width="5.8" height="9.57" fill="#a89a10"/>
<rect x="524.23" y="563.74" width="5.8" height="0.90" fill="#8a1a28"/>
<rect x="524.23" y="562.24" width="5.8" height="1.50" fill="#f46a54"/>
<rect x="524.23" y="549.99" width="5.8" height="12.25" fill="#6a1460"/>
<rect x="524.23" y="548.39" width="5.8" height="1.60" fill="#1f4f4c"/>
<rect x="524.23" y="546.39" width="5.8" height="2.00" fill="#0a7af0"/>
<rect x="524.23" y="522.80" width="5.8" height="23.59" fill="#fba02e"/>
<rect x="524.23" y="490.08" width="5.8" height="32.72" fill="#a5142f"/>
<rect x="524.23" y="482.29" width="5.8" height="7.79" fill="#9152c0"/>
<rect x="524.23" y="481.18" width="5.8" height="1.11" fill="#dcc112"/>
<rect x="533.74" y="567.31" width="5.8" height="20.29" fill="#b21c8c"/>
<rect x="533.74" y="587.60" width="5.8" height="1.10" fill="#de8a2a"/>
<rect x="533.74" y="555.74" width="5.8" height="11.57" fill="#a89a10"/>
<rect x="533.74" y="554.84" width="5.8" height="0.90" fill="#8a1a28"/>
<rect x="533.74" y="553.34" width="5.8" height="1.50" fill="#f46a54"/>
<rect x="533.74" y="538.86" width="5.8" height="14.47" fill="#6a1460"/>
<rect x="533.74" y="537.26" width="5.8" height="1.60" fill="#1f4f4c"/>
<rect x="533.74" y="533.92" width="5.8" height="3.34" fill="#0a7af0"/>
<rect x="533.74" y="519.68" width="5.8" height="14.24" fill="#fba02e"/>
<rect x="533.74" y="505.66" width="5.8" height="14.02" fill="#a5142f"/>
<rect x="533.74" y="494.53" width="5.8" height="11.13" fill="#9152c0"/>
<rect x="533.74" y="493.42" width="5.8" height="1.11" fill="#dcc112"/>
<rect x="543.24" y="566.20" width="5.8" height="21.40" fill="#b21c8c"/>
<rect x="543.24" y="587.60" width="5.8" height="1.10" fill="#de8a2a"/>
<rect x="543.24" y="551.95" width="5.8" height="14.24" fill="#a89a10"/>
<rect x="543.24" y="551.05" width="5.8" height="0.90" fill="#8a1a28"/>
<rect x="543.24" y="549.55" width="5.8" height="1.50" fill="#f46a54"/>
<rect x="543.24" y="535.52" width="5.8" height="14.03" fill="#6a1460"/>
<rect x="543.24" y="533.92" width="5.8" height="1.60" fill="#23472c"/>
<rect x="543.24" y="531.25" width="5.8" height="2.67" fill="#0a7af0"/>
<rect x="543.24" y="509.66" width="5.8" height="21.59" fill="#fba02e"/>
<rect x="543.24" y="500.09" width="5.8" height="9.57" fill="#a5142f"/>
<rect x="543.24" y="491.19" width="5.8" height="8.90" fill="#9152c0"/>
<rect x="543.24" y="489.41" width="5.8" height="1.78" fill="#dcc112"/>
<rect x="552.75" y="565.08" width="5.8" height="22.52" fill="#b21c8c"/>
<rect x="552.75" y="587.60" width="5.8" height="1.10" fill="#de8a2a"/>
<rect x="552.75" y="548.39" width="5.8" height="16.69" fill="#a89a10"/>
<rect x="552.75" y="547.49" width="5.8" height="0.90" fill="#8a1a28"/>
<rect x="552.75" y="545.99" width="5.8" height="1.50" fill="#f46a54"/>
<rect x="552.75" y="531.74" width="5.8" height="14.25" fill="#6a1460"/>
<rect x="552.75" y="530.14" width="5.8" height="1.60" fill="#1f4f4c"/>
<rect x="552.75" y="527.91" width="5.8" height="2.23" fill="#0a7af0"/>
<rect x="552.75" y="505.66" width="5.8" height="22.26" fill="#fba02e"/>
<rect x="552.75" y="497.20" width="5.8" height="8.46" fill="#a5142f"/>
<rect x="552.75" y="488.97" width="5.8" height="8.24" fill="#9152c0"/>
<rect x="552.75" y="487.85" width="5.8" height="1.11" fill="#dcc112"/>
<rect x="562.25" y="567.98" width="5.8" height="19.62" fill="#b21c8c"/>
<rect x="562.25" y="587.60" width="5.8" height="1.10" fill="#de8a2a"/>
<rect x="562.25" y="554.62" width="5.8" height="13.35" fill="#a89a10"/>
<rect x="562.25" y="553.72" width="5.8" height="0.90" fill="#8a1a28"/>
<rect x="562.25" y="552.22" width="5.8" height="1.50" fill="#f46a54"/>
<rect x="562.25" y="535.75" width="5.8" height="16.48" fill="#6a1460"/>
<rect x="562.25" y="534.15" width="5.8" height="1.60" fill="#1f4f4c"/>
<rect x="562.25" y="531.92" width="5.8" height="2.23" fill="#0a7af0"/>
<rect x="562.25" y="512.33" width="5.8" height="19.59" fill="#fba02e"/>
<rect x="562.25" y="487.85" width="5.8" height="24.48" fill="#a5142f"/>
<rect x="562.25" y="480.06" width="5.8" height="7.79" fill="#9152c0"/>
<rect x="562.25" y="478.28" width="5.8" height="1.78" fill="#dcc112"/>
<rect x="571.76" y="565.08" width="5.8" height="22.52" fill="#b21c8c"/>
<rect x="571.76" y="587.60" width="5.8" height="1.10" fill="#de8a2a"/>
<rect x="571.76" y="554.62" width="5.8" height="10.46" fill="#a89a10"/>
<rect x="571.76" y="553.72" width="5.8" height="0.90" fill="#8a1a28"/>
<rect x="571.76" y="552.22" width="5.8" height="1.50" fill="#f46a54"/>
<rect x="571.76" y="536.86" width="5.8" height="15.36" fill="#6a1460"/>
<rect x="571.76" y="535.26" width="5.8" height="1.60" fill="#23472c"/>
<rect x="571.76" y="533.03" width="5.8" height="2.23" fill="#0a7af0"/>
<rect x="571.76" y="515.67" width="5.8" height="17.36" fill="#fba02e"/>
<rect x="571.76" y="501.21" width="5.8" height="14.47" fill="#a5142f"/>
<rect x="571.76" y="494.53" width="5.8" height="6.68" fill="#9152c0"/>
<rect x="571.76" y="493.42" width="5.8" height="1.11" fill="#dcc112"/>
<rect x="581.27" y="567.31" width="5.8" height="20.29" fill="#b21c8c"/>
<rect x="581.27" y="587.60" width="5.8" height="1.10" fill="#de8a2a"/>
<rect x="581.27" y="555.74" width="5.8" height="11.57" fill="#a89a10"/>
<rect x="581.27" y="554.84" width="5.8" height="0.90" fill="#8a1a28"/>
<rect x="581.27" y="553.34" width="5.8" height="1.50" fill="#f46a54"/>
<rect x="581.27" y="530.63" width="5.8" height="22.71" fill="#6a1460"/>
<rect x="581.27" y="529.03" width="5.8" height="1.60" fill="#1f4f4c"/>
<rect x="581.27" y="524.13" width="5.8" height="4.90" fill="#0a7af0"/>
<rect x="581.27" y="510.78" width="5.8" height="13.35" fill="#fba02e"/>
<rect x="581.27" y="486.74" width="5.8" height="24.04" fill="#a5142f"/>
<rect x="581.27" y="480.73" width="5.8" height="6.01" fill="#9152c0"/>
<rect x="581.27" y="478.28" width="5.8" height="2.45" fill="#dcc112"/>
<rect x="590.77" y="561.30" width="5.8" height="26.30" fill="#b21c8c"/>
<rect x="590.77" y="587.60" width="5.8" height="1.10" fill="#de8a2a"/>
<rect x="590.77" y="547.95" width="5.8" height="13.35" fill="#a89a10"/>
<rect x="590.77" y="547.05" width="5.8" height="0.90" fill="#8a1a28"/>
<rect x="590.77" y="545.55" width="5.8" height="1.50" fill="#f46a54"/>
<rect x="590.77" y="522.39" width="5.8" height="23.15" fill="#6a1460"/>
<rect x="590.77" y="520.79" width="5.8" height="1.60" fill="#1f4f4c"/>
<rect x="590.77" y="515.23" width="5.8" height="5.56" fill="#0a7af0"/>
<rect x="590.77" y="500.54" width="5.8" height="14.69" fill="#fba02e"/>
<rect x="590.77" y="493.42" width="5.8" height="7.12" fill="#a5142f"/>
<rect x="590.77" y="484.51" width="5.8" height="8.90" fill="#9152c0"/>
<rect x="590.77" y="483.40" width="5.8" height="1.11" fill="#dcc112"/>
<rect x="600.28" y="563.08" width="5.8" height="24.52" fill="#b21c8c"/>
<rect x="600.28" y="587.60" width="5.8" height="1.10" fill="#de8a2a"/>
<rect x="600.28" y="548.39" width="5.8" height="14.69" fill="#a89a10"/>
<rect x="600.28" y="547.49" width="5.8" height="0.90" fill="#8a1a28"/>
<rect x="600.28" y="545.99" width="5.8" height="1.50" fill="#f46a54"/>
<rect x="600.28" y="520.17" width="5.8" height="25.82" fill="#6a1460"/>
<rect x="600.28" y="518.57" width="5.8" height="1.60" fill="#23472c"/>
<rect x="600.28" y="513.00" width="5.8" height="5.56" fill="#0a7af0"/>
<rect x="600.28" y="499.65" width="5.8" height="13.35" fill="#fba02e"/>
<rect x="600.28" y="494.08" width="5.8" height="5.56" fill="#a5142f"/>
<rect x="600.28" y="487.18" width="5.8" height="6.90" fill="#9152c0"/>
<rect x="600.28" y="485.18" width="5.8" height="2.00" fill="#dcc112"/>
<rect x="609.78" y="563.08" width="5.8" height="24.52" fill="#b21c8c"/>
<rect x="609.78" y="587.60" width="5.8" height="1.10" fill="#de8a2a"/>
<rect x="609.78" y="548.39" width="5.8" height="14.69" fill="#a89a10"/>
<rect x="609.78" y="547.49" width="5.8" height="0.90" fill="#8a1a28"/>
<rect x="609.78" y="545.99" width="5.8" height="1.50" fill="#f46a54"/>
<rect x="609.78" y="526.84" width="5.8" height="19.15" fill="#6a1460"/>
<rect x="609.78" y="525.24" width="5.8" height="1.60" fill="#1f4f4c"/>
<rect x="609.78" y="519.01" width="5.8" height="6.23" fill="#0a7af0"/>
<rect x="609.78" y="504.54" width="5.8" height="14.47" fill="#fba02e"/>
<rect x="609.78" y="498.98" width="5.8" height="5.56" fill="#a5142f"/>
<rect x="609.78" y="490.75" width="5.8" height="8.24" fill="#9152c0"/>
<rect x="609.78" y="489.41" width="5.8" height="1.34" fill="#dcc112"/>
<rect x="619.29" y="562.41" width="5.8" height="25.19" fill="#b21c8c"/>
<rect x="619.29" y="587.60" width="5.8" height="1.10" fill="#de8a2a"/>
<rect x="619.29" y="545.72" width="5.8" height="16.69" fill="#a89a10"/>
<rect x="619.29" y="544.82" width="5.8" height="0.90" fill="#8a1a28"/>
<rect x="619.29" y="543.32" width="5.8" height="1.50" fill="#f46a54"/>
<rect x="619.29" y="523.95" width="5.8" height="19.37" fill="#6a1460"/>
<rect x="619.29" y="522.35" width="5.8" height="1.60" fill="#1f4f4c"/>
<rect x="619.29" y="517.45" width="5.8" height="4.90" fill="#0a7af0"/>
<rect x="619.29" y="487.85" width="5.8" height="29.60" fill="#fba02e"/>
<rect x="619.29" y="475.17" width="5.8" height="12.69" fill="#a5142f"/>
<rect x="619.29" y="467.15" width="5.8" height="8.01" fill="#9152c0"/>
<rect x="619.29" y="465.60" width="5.8" height="1.56" fill="#dcc112"/>
<rect x="628.80" y="559.07" width="5.8" height="28.53" fill="#b21c8c"/>
<rect x="628.80" y="587.60" width="5.8" height="1.10" fill="#de8a2a"/>
<rect x="628.80" y="542.38" width="5.8" height="16.69" fill="#a89a10"/>
<rect x="628.80" y="541.48" width="5.8" height="0.90" fill="#8a1a28"/>
<rect x="628.80" y="539.98" width="5.8" height="1.50" fill="#f46a54"/>
<rect x="628.80" y="524.62" width="5.8" height="15.36" fill="#6a1460"/>
<rect x="628.80" y="523.02" width="5.8" height="1.60" fill="#23472c"/>
<rect x="628.80" y="519.01" width="5.8" height="4.01" fill="#0a7af0"/>
<rect x="628.80" y="499.65" width="5.8" height="19.36" fill="#fba02e"/>
<rect x="628.80" y="494.08" width="5.8" height="5.56" fill="#a5142f"/>
<rect x="628.80" y="483.40" width="5.8" height="10.68" fill="#9152c0"/>
<rect x="628.80" y="481.84" width="5.8" height="1.56" fill="#dcc112"/>
<rect x="638.30" y="560.19" width="5.8" height="27.41" fill="#b21c8c"/>
<rect x="638.30" y="587.60" width="5.8" height="1.10" fill="#de8a2a"/>
<rect x="638.30" y="541.27" width="5.8" height="18.92" fill="#a89a10"/>
<rect x="638.30" y="540.37" width="5.8" height="0.90" fill="#8a1a28"/>
<rect x="638.30" y="538.87" width="5.8" height="1.50" fill="#f46a54"/>
<rect x="638.30" y="523.28" width="5.8" height="15.59" fill="#6a1460"/>
<rect x="638.30" y="521.68" width="5.8" height="1.60" fill="#1f4f4c"/>
<rect x="638.30" y="517.23" width="5.8" height="4.45" fill="#0a7af0"/>
<rect x="638.30" y="501.87" width="5.8" height="15.36" fill="#fba02e"/>
<rect x="638.30" y="494.53" width="5.8" height="7.34" fill="#a5142f"/>
<rect x="638.30" y="486.74" width="5.8" height="7.79" fill="#9152c0"/>
<rect x="638.30" y="483.85" width="5.8" height="2.89" fill="#dcc112"/>
<rect x="647.81" y="564.19" width="5.8" height="23.41" fill="#b21c8c"/>
<rect x="647.81" y="587.60" width="5.8" height="1.10" fill="#de8a2a"/>
<rect x="647.81" y="544.61" width="5.8" height="19.59" fill="#a89a10"/>
<rect x="647.81" y="543.71" width="5.8" height="0.90" fill="#8a1a28"/>
<rect x="647.81" y="542.21" width="5.8" height="1.50" fill="#f46a54"/>
<rect x="647.81" y="524.62" width="5.8" height="17.59" fill="#6a1460"/>
<rect x="647.81" y="523.02" width="5.8" height="1.60" fill="#1f4f4c"/>
<rect x="647.81" y="519.68" width="5.8" height="3.34" fill="#0a7af0"/>
<rect x="647.81" y="508.55" width="5.8" height="11.13" fill="#fba02e"/>
<rect x="647.81" y="503.43" width="5.8" height="5.12" fill="#a5142f"/>
<rect x="647.81" y="498.98" width="5.8" height="4.45" fill="#9152c0"/>
<rect x="647.81" y="496.09" width="5.8" height="2.89" fill="#dcc112"/>
<rect x="657.31" y="556.40" width="5.8" height="31.20" fill="#b21c8c"/>
<rect x="657.31" y="587.60" width="5.8" height="1.10" fill="#de8a2a"/>
<rect x="657.31" y="535.70" width="5.8" height="20.70" fill="#a89a10"/>
<rect x="657.31" y="534.80" width="5.8" height="0.90" fill="#8a1a28"/>
<rect x="657.31" y="533.30" width="5.8" height="1.50" fill="#f46a54"/>
<rect x="657.31" y="516.83" width="5.8" height="16.48" fill="#6a1460"/>
<rect x="657.31" y="515.23" width="5.8" height="1.60" fill="#23472c"/>
<rect x="657.31" y="510.78" width="5.8" height="4.45" fill="#0a7af0"/>
<rect x="657.31" y="496.75" width="5.8" height="14.02" fill="#fba02e"/>
<rect x="657.31" y="491.64" width="5.8" height="5.12" fill="#a5142f"/>
<rect x="657.31" y="486.74" width="5.8" height="4.90" fill="#9152c0"/>
<rect x="657.31" y="484.51" width="5.8" height="2.23" fill="#dcc112"/>
<rect x="666.82" y="561.30" width="5.8" height="26.30" fill="#b21c8c"/>
<rect x="666.82" y="587.60" width="5.8" height="1.10" fill="#de8a2a"/>
<rect x="666.82" y="540.60" width="5.8" height="20.70" fill="#a89a10"/>
<rect x="666.82" y="539.70" width="5.8" height="0.90" fill="#8a1a28"/>
<rect x="666.82" y="538.20" width="5.8" height="1.50" fill="#f46a54"/>
<rect x="666.82" y="521.72" width="5.8" height="16.48" fill="#6a1460"/>
<rect x="666.82" y="520.12" width="5.8" height="1.60" fill="#1f4f4c"/>
<rect x="666.82" y="515.23" width="5.8" height="4.90" fill="#0a7af0"/>
<rect x="666.82" y="497.87" width="5.8" height="17.36" fill="#fba02e"/>
<rect x="666.82" y="475.61" width="5.8" height="22.26" fill="#a5142f"/>
<rect x="666.82" y="467.82" width="5.8" height="7.79" fill="#9152c0"/>
<rect x="666.82" y="465.60" width="5.8" height="2.23" fill="#dcc112"/>
<rect x="676.33" y="562.86" width="5.8" height="24.74" fill="#b21c8c"/>
<rect x="676.33" y="587.60" width="5.8" height="1.10" fill="#de8a2a"/>
<rect x="676.33" y="546.39" width="5.8" height="16.47" fill="#a89a10"/>
<rect x="676.33" y="545.49" width="5.8" height="0.90" fill="#8a1a28"/>
<rect x="676.33" y="543.99" width="5.8" height="1.50" fill="#f46a54"/>
<rect x="676.33" y="526.18" width="5.8" height="17.81" fill="#6a1460"/>
<rect x="676.33" y="524.58" width="5.8" height="1.60" fill="#1f4f4c"/>
<rect x="676.33" y="519.01" width="5.8" height="5.56" fill="#0a7af0"/>
<rect x="676.33" y="504.10" width="5.8" height="14.91" fill="#fba02e"/>
<rect x="676.33" y="491.19" width="5.8" height="12.91" fill="#a5142f"/>
<rect x="676.33" y="485.63" width="5.8" height="5.56" fill="#9152c0"/>
<rect x="676.33" y="483.85" width="5.8" height="1.78" fill="#dcc112"/>
<rect x="685.83" y="558.63" width="5.8" height="28.97" fill="#b21c8c"/>
<rect x="685.83" y="587.60" width="5.8" height="1.10" fill="#de8a2a"/>
<rect x="685.83" y="544.61" width="5.8" height="14.02" fill="#a89a10"/>
<rect x="685.83" y="543.71" width="5.8" height="0.90" fill="#8a1a28"/>
<rect x="685.83" y="542.21" width="5.8" height="1.50" fill="#f46a54"/>
<rect x="685.83" y="530.63" width="5.8" height="11.58" fill="#6a1460"/>
<rect x="685.83" y="529.03" width="5.8" height="1.60" fill="#23472c"/>
<rect x="685.83" y="525.24" width="5.8" height="3.78" fill="#0a7af0"/>
<rect x="685.83" y="514.56" width="5.8" height="10.68" fill="#fba02e"/>
<rect x="685.83" y="504.54" width="5.8" height="10.02" fill="#a5142f"/>
<rect x="685.83" y="498.31" width="5.8" height="6.23" fill="#9152c0"/>
<rect x="685.83" y="493.42" width="5.8" height="4.90" fill="#dcc112"/>
<rect x="695.34" y="560.19" width="5.8" height="27.41" fill="#b21c8c"/>
<rect x="695.34" y="587.60" width="5.8" height="1.10" fill="#de8a2a"/>
<rect x="695.34" y="547.95" width="5.8" height="12.24" fill="#a89a10"/>
<rect x="695.34" y="547.05" width="5.8" height="0.90" fill="#8a1a28"/>
<rect x="695.34" y="545.55" width="5.8" height="1.50" fill="#f46a54"/>
<rect x="695.34" y="530.18" width="5.8" height="15.36" fill="#6a1460"/>
<rect x="695.34" y="528.58" width="5.8" height="1.60" fill="#1f4f4c"/>
<rect x="695.34" y="524.13" width="5.8" height="4.45" fill="#0a7af0"/>
<rect x="695.34" y="515.01" width="5.8" height="9.13" fill="#fba02e"/>
<rect x="695.34" y="506.77" width="5.8" height="8.24" fill="#a5142f"/>
<rect x="695.34" y="502.32" width="5.8" height="4.45" fill="#9152c0"/>
<rect x="695.34" y="501.21" width="5.8" height="1.11" fill="#dcc112"/>
<rect x="704.84" y="554.60" width="5.8" height="33.00" fill="#b21c8c"/>
<rect x="704.84" y="587.60" width="5.8" height="1.10" fill="#de8a2a"/>
<rect x="704.84" y="538.40" width="5.8" height="16.20" fill="#a89a10"/>
<rect x="704.84" y="537.50" width="5.8" height="0.90" fill="#8a1a28"/>
<rect x="704.84" y="536.00" width="5.8" height="1.50" fill="#f46a54"/>
<rect x="704.84" y="518.80" width="5.8" height="17.20" fill="#6a1460"/>
<rect x="704.84" y="517.20" width="5.8" height="1.60" fill="#1f4f4c"/>
<rect x="704.84" y="511.90" width="5.8" height="5.30" fill="#0a7af0"/>
<rect x="704.84" y="490.70" width="5.8" height="21.20" fill="#fba02e"/>
<rect x="704.84" y="393.00" width="5.8" height="97.70" fill="#a5142f"/>
<rect x="704.84" y="386.00" width="5.8" height="7.00" fill="#9152c0"/>
<rect x="704.84" y="384.90" width="5.8" height="1.10" fill="#dcc112"/>
<rect x="714.35" y="561.30" width="5.8" height="26.30" fill="#b21c8c"/>
<rect x="714.35" y="587.60" width="5.8" height="1.10" fill="#de8a2a"/>
<rect x="714.35" y="544.61" width="5.8" height="16.69" fill="#a89a10"/>
<rect x="714.35" y="543.71" width="5.8" height="0.90" fill="#8a1a28"/>
<rect x="714.35" y="542.21" width="5.8" height="1.50" fill="#f46a54"/>
<rect x="714.35" y="527.29" width="5.8" height="14.92" fill="#6a1460"/>
<rect x="714.35" y="525.69" width="5.8" height="1.60" fill="#23472c"/>
<rect x="714.35" y="519.68" width="5.8" height="6.01" fill="#0a7af0"/>
<rect x="714.35" y="507.88" width="5.8" height="11.80" fill="#fba02e"/>
<rect x="714.35" y="484.51" width="5.8" height="23.37" fill="#a5142f"/>
<rect x="714.35" y="476.72" width="5.8" height="7.79" fill="#9152c0"/>
<rect x="714.35" y="474.50" width="5.8" height="2.23" fill="#dcc112"/>
<rect x="723.86" y="555.29" width="5.8" height="32.31" fill="#b21c8c"/>
<rect x="723.86" y="587.60" width="5.8" height="1.10" fill="#de8a2a"/>
<rect x="723.86" y="539.49" width="5.8" height="15.80" fill="#a89a10"/>
<rect x="723.86" y="538.59" width="5.8" height="0.90" fill="#8a1a28"/>
<rect x="723.86" y="537.09" width="5.8" height="1.50" fill="#f46a54"/>
<rect x="723.86" y="521.28" width="5.8" height="15.81" fill="#6a1460"/>
<rect x="723.86" y="519.68" width="5.8" height="1.60" fill="#1f4f4c"/>
<rect x="723.86" y="513.00" width="5.8" height="6.68" fill="#0a7af0"/>
<rect x="723.86" y="502.99" width="5.8" height="10.02" fill="#fba02e"/>
<rect x="723.86" y="486.29" width="5.8" height="16.69" fill="#a5142f"/>
<rect x="723.86" y="478.95" width="5.8" height="7.34" fill="#9152c0"/>
<rect x="723.86" y="476.06" width="5.8" height="2.89" fill="#dcc112"/>
<rect x="733.36" y="551.28" width="5.8" height="36.32" fill="#b21c8c"/>
<rect x="733.36" y="587.60" width="5.8" height="1.10" fill="#de8a2a"/>
<rect x="733.36" y="536.82" width="5.8" height="14.47" fill="#a89a10"/>
<rect x="733.36" y="535.92" width="5.8" height="0.90" fill="#8a1a28"/>
<rect x="733.36" y="534.42" width="5.8" height="1.50" fill="#f46a54"/>
<rect x="733.36" y="524.40" width="5.8" height="10.02" fill="#6a1460"/>
<rect x="733.36" y="522.80" width="5.8" height="1.60" fill="#1f4f4c"/>
<rect x="733.36" y="517.23" width="5.8" height="5.56" fill="#0a7af0"/>
<rect x="733.36" y="506.33" width="5.8" height="10.91" fill="#fba02e"/>
<rect x="733.36" y="490.08" width="5.8" height="16.25" fill="#a5142f"/>
<rect x="733.36" y="482.29" width="5.8" height="7.79" fill="#9152c0"/>
<rect x="733.36" y="480.06" width="5.8" height="2.23" fill="#dcc112"/>
<rect x="742.87" y="559.07" width="5.8" height="28.53" fill="#b21c8c"/>
<rect x="742.87" y="587.60" width="5.8" height="1.10" fill="#de8a2a"/>
<rect x="742.87" y="544.61" width="5.8" height="14.47" fill="#a89a10"/>
<rect x="742.87" y="543.71" width="5.8" height="0.90" fill="#8a1a28"/>
<rect x="742.87" y="542.21" width="5.8" height="1.50" fill="#f46a54"/>
<rect x="742.87" y="533.97" width="5.8" height="8.24" fill="#6a1460"/>
<rect x="742.87" y="532.37" width="5.8" height="1.60" fill="#23472c"/>
<rect x="742.87" y="526.36" width="5.8" height="6.01" fill="#0a7af0"/>
<rect x="742.87" y="515.67" width="5.8" height="10.68" fill="#fba02e"/>
<rect x="742.87" y="506.33" width="5.8" height="9.35" fill="#a5142f"/>
<rect x="742.87" y="500.54" width="5.8" height="5.79" fill="#9152c0"/>
<rect x="742.87" y="497.87" width="5.8" height="2.67" fill="#dcc112"/>
<rect x="752.37" y="561.30" width="5.8" height="26.30" fill="#b21c8c"/>
<rect x="752.37" y="587.60" width="5.8" height="1.10" fill="#de8a2a"/>
<rect x="752.37" y="545.72" width="5.8" height="15.58" fill="#a89a10"/>
<rect x="752.37" y="544.82" width="5.8" height="0.90" fill="#8a1a28"/>
<rect x="752.37" y="543.32" width="5.8" height="1.50" fill="#f46a54"/>
<rect x="752.37" y="531.74" width="5.8" height="11.58" fill="#6a1460"/>
<rect x="752.37" y="530.14" width="5.8" height="1.60" fill="#1f4f4c"/>
<rect x="752.37" y="524.13" width="5.8" height="6.01" fill="#0a7af0"/>
<rect x="752.37" y="515.01" width="5.8" height="9.13" fill="#fba02e"/>
<rect x="752.37" y="507.44" width="5.8" height="7.57" fill="#a5142f"/>
<rect x="752.37" y="502.32" width="5.8" height="5.12" fill="#9152c0"/>
<rect x="752.37" y="499.65" width="5.8" height="2.67" fill="#dcc112"/>
<rect x="761.88" y="562.41" width="5.8" height="25.19" fill="#b21c8c"/>
<rect x="761.88" y="587.60" width="5.8" height="1.10" fill="#de8a2a"/>
<rect x="761.88" y="544.61" width="5.8" height="17.81" fill="#a89a10"/>
<rect x="761.88" y="543.71" width="5.8" height="0.90" fill="#8a1a28"/>
<rect x="761.88" y="542.21" width="5.8" height="1.50" fill="#f46a54"/>
<rect x="761.88" y="526.84" width="5.8" height="15.36" fill="#6a1460"/>
<rect x="761.88" y="525.24" width="5.8" height="1.60" fill="#1f4f4c"/>
<rect x="761.88" y="519.01" width="5.8" height="6.23" fill="#0a7af0"/>
<rect x="761.88" y="509.66" width="5.8" height="9.35" fill="#fba02e"/>
<rect x="761.88" y="504.54" width="5.8" height="5.12" fill="#a5142f"/>
<rect x="761.88" y="498.31" width="5.8" height="6.23" fill="#9152c0"/>
<rect x="761.88" y="495.64" width="5.8" height="2.67" fill="#dcc112"/>
<rect x="771.39" y="559.07" width="5.8" height="28.53" fill="#b21c8c"/>
<rect x="771.39" y="587.60" width="5.8" height="1.10" fill="#de8a2a"/>
<rect x="771.39" y="540.60" width="5.8" height="18.47" fill="#a89a10"/>
<rect x="771.39" y="539.70" width="5.8" height="0.90" fill="#8a1a28"/>
<rect x="771.39" y="538.20" width="5.8" height="1.50" fill="#f46a54"/>
<rect x="771.39" y="522.84" width="5.8" height="15.36" fill="#6a1460"/>
<rect x="771.39" y="521.24" width="5.8" height="1.60" fill="#23472c"/>
<rect x="771.39" y="512.33" width="5.8" height="8.90" fill="#0a7af0"/>
<rect x="771.39" y="500.76" width="5.8" height="11.57" fill="#fba02e"/>
<rect x="771.39" y="490.08" width="5.8" height="10.68" fill="#a5142f"/>
<rect x="771.39" y="485.63" width="5.8" height="4.45" fill="#9152c0"/>
<rect x="771.39" y="483.40" width="5.8" height="2.23" fill="#dcc112"/>
<rect x="780.89" y="564.19" width="5.8" height="23.41" fill="#b21c8c"/>
<rect x="780.89" y="587.60" width="5.8" height="1.10" fill="#de8a2a"/>
<rect x="780.89" y="547.95" width="5.8" height="16.25" fill="#a89a10"/>
<rect x="780.89" y="547.05" width="5.8" height="0.90" fill="#8a1a28"/>
<rect x="780.89" y="545.55" width="5.8" height="1.50" fill="#f46a54"/>
<rect x="780.89" y="532.85" width="5.8" height="12.69" fill="#6a1460"/>
<rect x="780.89" y="531.25" width="5.8" height="1.60" fill="#1f4f4c"/>
<rect x="780.89" y="524.13" width="5.8" height="7.12" fill="#0a7af0"/>
<rect x="780.89" y="514.12" width="5.8" height="10.02" fill="#fba02e"/>
<rect x="780.89" y="503.43" width="5.8" height="10.68" fill="#a5142f"/>
<rect x="780.89" y="498.31" width="5.8" height="5.12" fill="#9152c0"/>
<rect x="780.89" y="495.64" width="5.8" height="2.67" fill="#dcc112"/>
<rect x="790.40" y="567.31" width="5.8" height="20.29" fill="#b21c8c"/>
<rect x="790.40" y="587.60" width="5.8" height="1.10" fill="#de8a2a"/>
<rect x="790.40" y="553.96" width="5.8" height="13.35" fill="#a89a10"/>
<rect x="790.40" y="553.06" width="5.8" height="0.90" fill="#8a1a28"/>
<rect x="790.40" y="551.56" width="5.8" height="1.50" fill="#f46a54"/>
<rect x="790.40" y="538.42" width="5.8" height="13.14" fill="#6a1460"/>
<rect x="790.40" y="536.82" width="5.8" height="1.60" fill="#1f4f4c"/>
<rect x="790.40" y="530.81" width="5.8" height="6.01" fill="#0a7af0"/>
<rect x="790.40" y="520.79" width="5.8" height="10.02" fill="#fba02e"/>
<rect x="790.40" y="510.11" width="5.8" height="10.68" fill="#a5142f"/>
<rect x="790.40" y="502.32" width="5.8" height="7.79" fill="#9152c0"/>
<rect x="790.40" y="499.65" width="5.8" height="2.67" fill="#dcc112"/>
<rect x="799.90" y="564.19" width="5.8" height="23.41" fill="#b21c8c"/>
<rect x="799.90" y="587.60" width="5.8" height="1.10" fill="#de8a2a"/>
<rect x="799.90" y="552.84" width="5.8" height="11.35" fill="#a89a10"/>
<rect x="799.90" y="551.94" width="5.8" height="0.90" fill="#8a1a28"/>
<rect x="799.90" y="550.44" width="5.8" height="1.50" fill="#f46a54"/>
<rect x="799.90" y="540.64" width="5.8" height="9.80" fill="#6a1460"/>
<rect x="799.90" y="539.04" width="5.8" height="1.60" fill="#23472c"/>
<rect x="799.90" y="532.37" width="5.8" height="6.68" fill="#0a7af0"/>
<rect x="799.90" y="522.35" width="5.8" height="10.02" fill="#fba02e"/>
<rect x="799.90" y="514.12" width="5.8" height="8.24" fill="#a5142f"/>
<rect x="799.90" y="508.55" width="5.8" height="5.56" fill="#9152c0"/>
<rect x="799.90" y="501.87" width="5.8" height="6.68" fill="#dcc112"/>
<rect x="809.41" y="567.98" width="5.8" height="19.62" fill="#b21c8c"/>
<rect x="809.41" y="587.60" width="5.8" height="1.10" fill="#de8a2a"/>
<rect x="809.41" y="555.74" width="5.8" height="12.24" fill="#a89a10"/>
<rect x="809.41" y="554.84" width="5.8" height="0.90" fill="#8a1a28"/>
<rect x="809.41" y="553.34" width="5.8" height="1.50" fill="#f46a54"/>
<rect x="809.41" y="544.43" width="5.8" height="8.91" fill="#6a1460"/>
<rect x="809.41" y="542.83" width="5.8" height="1.60" fill="#1f4f4c"/>
<rect x="809.41" y="536.82" width="5.8" height="6.01" fill="#0a7af0"/>
<rect x="809.41" y="527.91" width="5.8" height="8.90" fill="#fba02e"/>
<rect x="809.41" y="523.46" width="5.8" height="4.45" fill="#a5142f"/>
<rect x="809.41" y="517.90" width="5.8" height="5.56" fill="#9152c0"/>
<rect x="809.41" y="516.79" width="5.8" height="1.11" fill="#dcc112"/>
<rect x="818.92" y="556.85" width="5.8" height="30.75" fill="#b21c8c"/>
<rect x="818.92" y="587.60" width="5.8" height="1.10" fill="#de8a2a"/>
<rect x="818.92" y="542.83" width="5.8" height="14.02" fill="#a89a10"/>
<rect x="818.92" y="541.93" width="5.8" height="0.90" fill="#8a1a28"/>
<rect x="818.92" y="540.43" width="5.8" height="1.50" fill="#f46a54"/>
<rect x="818.92" y="530.18" width="5.8" height="10.24" fill="#6a1460"/>
<rect x="818.92" y="528.58" width="5.8" height="1.60" fill="#1f4f4c"/>
<rect x="818.92" y="520.57" width="5.8" height="8.01" fill="#0a7af0"/>
<rect x="818.92" y="507.88" width="5.8" height="12.69" fill="#fba02e"/>
<rect x="818.92" y="486.29" width="5.8" height="21.59" fill="#a5142f"/>
<rect x="818.92" y="480.06" width="5.8" height="6.23" fill="#9152c0"/>
<rect x="818.92" y="477.39" width="5.8" height="2.67" fill="#dcc112"/>
<rect x="828.42" y="567.31" width="5.8" height="20.29" fill="#b21c8c"/>
<rect x="828.42" y="587.60" width="5.8" height="1.10" fill="#de8a2a"/>
<rect x="828.42" y="553.51" width="5.8" height="13.80" fill="#a89a10"/>
<rect x="828.42" y="552.61" width="5.8" height="0.90" fill="#8a1a28"/>
<rect x="828.42" y="551.11" width="5.8" height="1.50" fill="#f46a54"/>
<rect x="828.42" y="546.12" width="5.8" height="4.99" fill="#6a1460"/>
<rect x="828.42" y="544.61" width="5.8" height="1.51" fill="#23472c"/>
<rect x="828.42" y="533.03" width="5.8" height="11.57" fill="#0a7af0"/>
<rect x="828.42" y="506.77" width="5.8" height="26.26" fill="#fba02e"/>
<rect x="828.42" y="465.60" width="5.8" height="41.18" fill="#a5142f"/>
<rect x="828.42" y="460.48" width="5.8" height="5.12" fill="#9152c0"/>
<rect x="828.42" y="457.81" width="5.8" height="2.67" fill="#dcc112"/>
<rect x="837.93" y="550.20" width="5.8" height="37.40" fill="#b21c8c"/>
<rect x="837.93" y="587.60" width="5.8" height="1.10" fill="#de8a2a"/>
<rect x="837.93" y="534.60" width="5.8" height="15.60" fill="#a89a10"/>
<rect x="837.93" y="533.70" width="5.8" height="0.90" fill="#8a1a28"/>
<rect x="837.93" y="532.20" width="5.8" height="1.50" fill="#f46a54"/>
<rect x="837.93" y="525.10" width="5.8" height="7.10" fill="#6a1460"/>
<rect x="837.93" y="523.50" width="5.8" height="1.60" fill="#1f4f4c"/>
<rect x="837.93" y="513.00" width="5.8" height="10.50" fill="#0a7af0"/>
<rect x="837.93" y="500.80" width="5.8" height="12.20" fill="#fba02e"/>
<rect x="837.93" y="456.50" width="5.8" height="44.30" fill="#a5142f"/>
<rect x="837.93" y="442.00" width="5.8" height="14.50" fill="#9152c0"/>
<rect x="837.93" y="440.00" width="5.8" height="2.00" fill="#dcc112"/>
<rect x="847.43" y="567.31" width="5.8" height="20.29" fill="#b21c8c"/>
<rect x="847.43" y="587.60" width="5.8" height="1.10" fill="#de8a2a"/>
<rect x="847.43" y="553.51" width="5.8" height="13.80" fill="#a89a10"/>
<rect x="847.43" y="552.61" width="5.8" height="0.90" fill="#8a1a28"/>
<rect x="847.43" y="551.11" width="5.8" height="1.50" fill="#f46a54"/>
<rect x="847.43" y="543.98" width="5.8" height="7.13" fill="#6a1460"/>
<rect x="847.43" y="542.38" width="5.8" height="1.60" fill="#1f4f4c"/>
<rect x="847.43" y="534.15" width="5.8" height="8.24" fill="#0a7af0"/>
<rect x="847.43" y="511.89" width="5.8" height="22.26" fill="#fba02e"/>
<rect x="847.43" y="501.21" width="5.8" height="10.68" fill="#a5142f"/>
<rect x="847.43" y="492.75" width="5.8" height="8.46" fill="#9152c0"/>
<rect x="847.43" y="491.19" width="5.8" height="1.56" fill="#dcc112"/>
<rect x="856.94" y="566.20" width="5.8" height="21.40" fill="#b21c8c"/>
<rect x="856.94" y="587.60" width="5.8" height="1.10" fill="#de8a2a"/>
<rect x="856.94" y="551.95" width="5.8" height="14.24" fill="#a89a10"/>
<rect x="856.94" y="551.05" width="5.8" height="0.90" fill="#8a1a28"/>
<rect x="856.94" y="549.55" width="5.8" height="1.50" fill="#f46a54"/>
<rect x="856.94" y="542.87" width="5.8" height="6.68" fill="#6a1460"/>
<rect x="856.94" y="541.27" width="5.8" height="1.60" fill="#23472c"/>
<rect x="856.94" y="535.26" width="5.8" height="6.01" fill="#0a7af0"/>
<rect x="856.94" y="516.79" width="5.8" height="18.47" fill="#fba02e"/>
<rect x="856.94" y="512.33" width="5.8" height="4.45" fill="#a5142f"/>
<rect x="856.94" y="504.54" width="5.8" height="7.79" fill="#9152c0"/>
<rect x="856.94" y="501.87" width="5.8" height="2.67" fill="#dcc112"/>
<rect x="866.45" y="567.98" width="5.8" height="19.62" fill="#b21c8c"/>
<rect x="866.45" y="587.60" width="5.8" height="1.10" fill="#de8a2a"/>
<rect x="866.45" y="554.18" width="5.8" height="13.80" fill="#a89a10"/>
<rect x="866.45" y="553.28" width="5.8" height="0.90" fill="#8a1a28"/>
<rect x="866.45" y="551.78" width="5.8" height="1.50" fill="#f46a54"/>
<rect x="866.45" y="542.87" width="5.8" height="8.91" fill="#6a1460"/>
<rect x="866.45" y="541.27" width="5.8" height="1.60" fill="#1f4f4c"/>
<rect x="866.45" y="536.82" width="5.8" height="4.45" fill="#0a7af0"/>
<rect x="866.45" y="515.01" width="5.8" height="21.81" fill="#fba02e"/>
<rect x="866.45" y="500.09" width="5.8" height="14.91" fill="#a5142f"/>
<rect x="866.45" y="493.42" width="5.8" height="6.68" fill="#9152c0"/>
<rect x="866.45" y="491.19" width="5.8" height="2.23" fill="#dcc112"/>
<rect x="875.95" y="567.31" width="5.8" height="20.29" fill="#b21c8c"/>
<rect x="875.95" y="587.60" width="5.8" height="1.10" fill="#de8a2a"/>
<rect x="875.95" y="550.84" width="5.8" height="16.47" fill="#a89a10"/>
<rect x="875.95" y="549.94" width="5.8" height="0.90" fill="#8a1a28"/>
<rect x="875.95" y="548.44" width="5.8" height="1.50" fill="#f46a54"/>
<rect x="875.95" y="542.20" width="5.8" height="6.24" fill="#6a1460"/>
<rect x="875.95" y="540.60" width="5.8" height="1.60" fill="#1f4f4c"/>
<rect x="875.95" y="535.70" width="5.8" height="4.90" fill="#0a7af0"/>
<rect x="875.95" y="515.01" width="5.8" height="20.70" fill="#fba02e"/>
<rect x="875.95" y="506.77" width="5.8" height="8.24" fill="#a5142f"/>
<rect x="875.95" y="500.09" width="5.8" height="6.68" fill="#9152c0"/>
<rect x="875.95" y="497.42" width="5.8" height="2.67" fill="#dcc112"/>
<rect x="885.46" y="565.08" width="5.8" height="22.52" fill="#b21c8c"/>
<rect x="885.46" y="587.60" width="5.8" height="1.10" fill="#de8a2a"/>
<rect x="885.46" y="541.94" width="5.8" height="23.15" fill="#a89a10"/>
<rect x="885.46" y="541.04" width="5.8" height="0.90" fill="#8a1a28"/>
<rect x="885.46" y="539.54" width="5.8" height="1.50" fill="#f46a54"/>
<rect x="885.46" y="534.92" width="5.8" height="4.62" fill="#6a1460"/>
<rect x="885.46" y="533.48" width="5.8" height="1.44" fill="#23472c"/>
<rect x="885.46" y="527.91" width="5.8" height="5.56" fill="#0a7af0"/>
<rect x="885.46" y="509.00" width="5.8" height="18.92" fill="#fba02e"/>
<rect x="885.46" y="497.42" width="5.8" height="11.57" fill="#a5142f"/>
<rect x="885.46" y="492.30" width="5.8" height="5.12" fill="#9152c0"/>
<rect x="885.46" y="490.08" width="5.8" height="2.23" fill="#dcc112"/>
<rect x="894.96" y="569.09" width="5.8" height="18.51" fill="#b21c8c"/>
<rect x="894.96" y="587.60" width="5.8" height="1.10" fill="#de8a2a"/>
<rect x="894.96" y="550.84" width="5.8" height="18.25" fill="#a89a10"/>
<rect x="894.96" y="549.94" width="5.8" height="0.90" fill="#8a1a28"/>
<rect x="894.96" y="548.44" width="5.8" height="1.50" fill="#f46a54"/>
<rect x="894.96" y="540.64" width="5.8" height="7.80" fill="#6a1460"/>
<rect x="894.96" y="539.04" width="5.8" height="1.60" fill="#1f4f4c"/>
<rect x="894.96" y="533.03" width="5.8" height="6.01" fill="#0a7af0"/>
<rect x="894.96" y="515.67" width="5.8" height="17.36" fill="#fba02e"/>
<rect x="894.96" y="502.99" width="5.8" height="12.69" fill="#a5142f"/>
<rect x="894.96" y="496.75" width="5.8" height="6.23" fill="#9152c0"/>
<rect x="894.96" y="494.53" width="5.8" height="2.23" fill="#dcc112"/>
<rect x="904.47" y="570.20" width="5.8" height="17.40" fill="#b21c8c"/>
<rect x="904.47" y="587.60" width="5.8" height="1.10" fill="#de8a2a"/>
<rect x="904.47" y="554.62" width="5.8" height="15.58" fill="#a89a10"/>
<rect x="904.47" y="553.72" width="5.8" height="0.90" fill="#8a1a28"/>
<rect x="904.47" y="552.22" width="5.8" height="1.50" fill="#f46a54"/>
<rect x="904.47" y="548.16" width="5.8" height="4.07" fill="#6a1460"/>
<rect x="904.47" y="546.83" width="5.8" height="1.32" fill="#1f4f4c"/>
<rect x="904.47" y="543.49" width="5.8" height="3.34" fill="#0a7af0"/>
<rect x="904.47" y="525.69" width="5.8" height="17.81" fill="#fba02e"/>
<rect x="904.47" y="519.01" width="5.8" height="6.68" fill="#a5142f"/>
<rect x="904.47" y="511.22" width="5.8" height="7.79" fill="#9152c0"/>
<rect x="904.47" y="509.00" width="5.8" height="2.23" fill="#dcc112"/>
<rect x="913.98" y="569.09" width="5.8" height="18.51" fill="#b21c8c"/>
<rect x="913.98" y="587.60" width="5.8" height="1.10" fill="#de8a2a"/>
<rect x="913.98" y="553.51" width="5.8" height="15.58" fill="#a89a10"/>
<rect x="913.98" y="552.61" width="5.8" height="0.90" fill="#8a1a28"/>
<rect x="913.98" y="551.11" width="5.8" height="1.50" fill="#f46a54"/>
<rect x="913.98" y="545.09" width="5.8" height="6.02" fill="#6a1460"/>
<rect x="913.98" y="543.49" width="5.8" height="1.60" fill="#23472c"/>
<rect x="913.98" y="540.60" width="5.8" height="2.89" fill="#0a7af0"/>
<rect x="913.98" y="527.47" width="5.8" height="13.13" fill="#fba02e"/>
<rect x="913.98" y="520.57" width="5.8" height="6.90" fill="#a5142f"/>
<rect x="913.98" y="515.23" width="5.8" height="5.34" fill="#9152c0"/>
<rect x="913.98" y="507.88" width="5.8" height="7.34" fill="#dcc112"/>
<rect x="923.48" y="569.09" width="5.8" height="18.51" fill="#b21c8c"/>
<rect x="923.48" y="587.60" width="5.8" height="1.10" fill="#de8a2a"/>
<rect x="923.48" y="555.74" width="5.8" height="13.35" fill="#a89a10"/>
<rect x="923.48" y="554.84" width="5.8" height="0.90" fill="#8a1a28"/>
<rect x="923.48" y="553.34" width="5.8" height="1.50" fill="#f46a54"/>
<rect x="923.48" y="547.98" width="5.8" height="5.36" fill="#6a1460"/>
<rect x="923.48" y="546.39" width="5.8" height="1.59" fill="#1f4f4c"/>
<rect x="923.48" y="541.94" width="5.8" height="4.45" fill="#0a7af0"/>
<rect x="923.48" y="531.70" width="5.8" height="10.24" fill="#fba02e"/>
<rect x="923.48" y="527.25" width="5.8" height="4.45" fill="#a5142f"/>
<rect x="923.48" y="522.80" width="5.8" height="4.45" fill="#9152c0"/>
<rect x="923.48" y="521.91" width="5.8" height="0.89" fill="#dcc112"/>
<rect x="932.99" y="567.31" width="5.8" height="20.29" fill="#b21c8c"/>
<rect x="932.99" y="587.60" width="5.8" height="1.10" fill="#de8a2a"/>
<rect x="932.99" y="551.95" width="5.8" height="15.36" fill="#a89a10"/>
<rect x="932.99" y="551.05" width="5.8" height="0.90" fill="#8a1a28"/>
<rect x="932.99" y="549.55" width="5.8" height="1.50" fill="#f46a54"/>
<rect x="932.99" y="542.20" width="5.8" height="7.35" fill="#6a1460"/>
<rect x="932.99" y="540.60" width="5.8" height="1.60" fill="#1f4f4c"/>
<rect x="932.99" y="536.82" width="5.8" height="3.78" fill="#0a7af0"/>
<rect x="932.99" y="526.80" width="5.8" height="10.02" fill="#fba02e"/>
<rect x="932.99" y="520.57" width="5.8" height="6.23" fill="#a5142f"/>
<rect x="932.99" y="515.23" width="5.8" height="5.34" fill="#9152c0"/>
<rect x="932.99" y="513.89" width="5.8" height="1.34" fill="#dcc112"/>
<rect x="942.49" y="571.32" width="5.8" height="16.28" fill="#b21c8c"/>
<rect x="942.49" y="587.60" width="5.8" height="1.10" fill="#de8a2a"/>
<rect x="942.49" y="555.74" width="5.8" height="15.58" fill="#a89a10"/>
<rect x="942.49" y="554.84" width="5.8" height="0.90" fill="#8a1a28"/>
<rect x="942.49" y="553.34" width="5.8" height="1.50" fill="#f46a54"/>
<rect x="942.49" y="548.35" width="5.8" height="4.99" fill="#6a1460"/>
<rect x="942.49" y="546.83" width="5.8" height="1.51" fill="#23472c"/>
<rect x="942.49" y="542.83" width="5.8" height="4.01" fill="#0a7af0"/>
<rect x="942.49" y="530.14" width="5.8" height="12.69" fill="#fba02e"/>
<rect x="942.49" y="525.69" width="5.8" height="4.45" fill="#a5142f"/>
<rect x="942.49" y="519.01" width="5.8" height="6.68" fill="#9152c0"/>
<rect x="942.49" y="516.79" width="5.8" height="2.23" fill="#dcc112"/>
<rect x="952.00" y="556.85" width="5.8" height="30.75" fill="#b21c8c"/>
<rect x="952.00" y="587.60" width="5.8" height="1.10" fill="#de8a2a"/>
<rect x="952.00" y="540.16" width="5.8" height="16.69" fill="#a89a10"/>
<rect x="952.00" y="539.26" width="5.8" height="0.90" fill="#8a1a28"/>
<rect x="952.00" y="537.76" width="5.8" height="1.50" fill="#f46a54"/>
<rect x="952.00" y="530.63" width="5.8" height="7.13" fill="#6a1460"/>
<rect x="952.00" y="529.03" width="5.8" height="1.60" fill="#1f4f4c"/>
<rect x="952.00" y="526.80" width="5.8" height="2.23" fill="#0a7af0"/>
<rect x="952.00" y="513.00" width="5.8" height="13.80" fill="#fba02e"/>
<rect x="952.00" y="506.33" width="5.8" height="6.68" fill="#a5142f"/>
<rect x="952.00" y="498.98" width="5.8" height="7.34" fill="#9152c0"/>
<rect x="952.00" y="496.75" width="5.8" height="2.23" fill="#dcc112"/>
<rect x="961.51" y="573.10" width="5.8" height="14.50" fill="#b21c8c"/>
<rect x="961.51" y="587.60" width="5.8" height="1.10" fill="#de8a2a"/>
<rect x="961.51" y="557.96" width="5.8" height="15.13" fill="#a89a10"/>
<rect x="961.51" y="557.06" width="5.8" height="0.90" fill="#8a1a28"/>
<rect x="961.51" y="555.56" width="5.8" height="1.50" fill="#f46a54"/>
<rect x="961.51" y="550.20" width="5.8" height="5.36" fill="#6a1460"/>
<rect x="961.51" y="548.61" width="5.8" height="1.59" fill="#1f4f4c"/>
<rect x="961.51" y="544.61" width="5.8" height="4.01" fill="#0a7af0"/>
<rect x="961.51" y="533.92" width="5.8" height="10.68" fill="#fba02e"/>
<rect x="961.51" y="522.35" width="5.8" height="11.57" fill="#a5142f"/>
<rect x="961.51" y="516.79" width="5.8" height="5.56" fill="#9152c0"/>
<rect x="961.51" y="514.56" width="5.8" height="2.23" fill="#dcc112"/>
<rect x="971.01" y="571.32" width="5.8" height="16.28" fill="#b21c8c"/>
<rect x="971.01" y="587.60" width="5.8" height="1.10" fill="#de8a2a"/>
<rect x="971.01" y="553.51" width="5.8" height="17.81" fill="#a89a10"/>
<rect x="971.01" y="552.61" width="5.8" height="0.90" fill="#8a1a28"/>
<rect x="971.01" y="551.11" width="5.8" height="1.50" fill="#f46a54"/>
<rect x="971.01" y="546.49" width="5.8" height="4.62" fill="#6a1460"/>
<rect x="971.01" y="545.05" width="5.8" height="1.44" fill="#23472c"/>
<rect x="971.01" y="542.83" width="5.8" height="2.23" fill="#0a7af0"/>
<rect x="971.01" y="515.67" width="5.8" height="27.15" fill="#fba02e"/>
<rect x="971.01" y="493.42" width="5.8" height="22.26" fill="#a5142f"/>
<rect x="971.01" y="490.08" width="5.8" height="3.34" fill="#9152c0"/>
<rect x="971.01" y="488.52" width="5.8" height="1.56" fill="#dcc112"/>
<rect x="980.52" y="572.43" width="5.8" height="15.17" fill="#b21c8c"/>
<rect x="980.52" y="587.60" width="5.8" height="1.10" fill="#de8a2a"/>
<rect x="980.52" y="557.96" width="5.8" height="14.47" fill="#a89a10"/>
<rect x="980.52" y="557.06" width="5.8" height="0.90" fill="#8a1a28"/>
<rect x="980.52" y="555.56" width="5.8" height="1.50" fill="#f46a54"/>
<rect x="980.52" y="549.99" width="5.8" height="5.57" fill="#6a1460"/>
<rect x="980.52" y="548.39" width="5.8" height="1.60" fill="#1f4f4c"/>
<rect x="980.52" y="544.61" width="5.8" height="3.78" fill="#0a7af0"/>
<rect x="980.52" y="533.92" width="5.8" height="10.68" fill="#fba02e"/>
<rect x="980.52" y="525.69" width="5.8" height="8.24" fill="#a5142f"/>
<rect x="980.52" y="520.57" width="5.8" height="5.12" fill="#9152c0"/>
<rect x="980.52" y="517.90" width="5.8" height="2.67" fill="#dcc112"/>
<rect x="990.02" y="571.32" width="5.8" height="16.28" fill="#b21c8c"/>
<rect x="990.02" y="587.60" width="5.8" height="1.10" fill="#de8a2a"/>
<rect x="990.02" y="552.40" width="5.8" height="18.92" fill="#a89a10"/>
<rect x="990.02" y="551.50" width="5.8" height="0.90" fill="#8a1a28"/>
<rect x="990.02" y="550.00" width="5.8" height="1.50" fill="#f46a54"/>
<rect x="990.02" y="542.87" width="5.8" height="7.13" fill="#6a1460"/>
<rect x="990.02" y="541.27" width="5.8" height="1.60" fill="#1f4f4c"/>
<rect x="990.02" y="538.60" width="5.8" height="2.67" fill="#0a7af0"/>
<rect x="990.02" y="517.90" width="5.8" height="20.70" fill="#fba02e"/>
<rect x="990.02" y="501.21" width="5.8" height="16.69" fill="#a5142f"/>
<rect x="990.02" y="494.53" width="5.8" height="6.68" fill="#9152c0"/>
<rect x="990.02" y="491.64" width="5.8" height="2.89" fill="#dcc112"/>
<rect x="999.53" y="569.09" width="5.8" height="18.51" fill="#b21c8c"/>
<rect x="999.53" y="587.60" width="5.8" height="1.10" fill="#de8a2a"/>
<rect x="999.53" y="546.39" width="5.8" height="22.70" fill="#a89a10"/>
<rect x="999.53" y="545.49" width="5.8" height="0.90" fill="#8a1a28"/>
<rect x="999.53" y="543.99" width="5.8" height="1.50" fill="#f46a54"/>
<rect x="999.53" y="536.19" width="5.8" height="7.80" fill="#6a1460"/>
<rect x="999.53" y="534.59" width="5.8" height="1.60" fill="#23472c"/>
<rect x="999.53" y="529.03" width="5.8" height="5.56" fill="#0a7af0"/>
<rect x="999.53" y="513.89" width="5.8" height="15.13" fill="#fba02e"/>
<rect x="999.53" y="487.18" width="5.8" height="26.71" fill="#a5142f"/>
<rect x="999.53" y="481.62" width="5.8" height="5.56" fill="#9152c0"/>
<rect x="999.53" y="480.51" width="5.8" height="1.11" fill="#dcc112"/>
<rect x="1009.04" y="574.21" width="5.8" height="13.39" fill="#b21c8c"/>
<rect x="1009.04" y="587.60" width="5.8" height="1.10" fill="#de8a2a"/>
<rect x="1009.04" y="553.51" width="5.8" height="20.70" fill="#a89a10"/>
<rect x="1009.04" y="552.61" width="5.8" height="0.90" fill="#8a1a28"/>
<rect x="1009.04" y="551.11" width="5.8" height="1.50" fill="#f46a54"/>
<rect x="1009.04" y="546.49" width="5.8" height="4.62" fill="#6a1460"/>
<rect x="1009.04" y="545.05" width="5.8" height="1.44" fill="#1f4f4c"/>
<rect x="1009.04" y="540.82" width="5.8" height="4.23" fill="#0a7af0"/>
<rect x="1009.04" y="510.78" width="5.8" height="30.05" fill="#fba02e"/>
<rect x="1009.04" y="481.18" width="5.8" height="29.60" fill="#a5142f"/>
<rect x="1009.04" y="476.06" width="5.8" height="5.12" fill="#9152c0"/>
<rect x="1009.04" y="473.39" width="5.8" height="2.67" fill="#dcc112"/>
<rect x="1018.54" y="571.30" width="5.8" height="16.30" fill="#b21c8c"/>
<rect x="1018.54" y="587.60" width="5.8" height="1.10" fill="#de8a2a"/>
<rect x="1018.54" y="553.50" width="5.8" height="17.80" fill="#a89a10"/>
<rect x="1018.54" y="552.60" width="5.8" height="0.90" fill="#8a1a28"/>
<rect x="1018.54" y="551.10" width="5.8" height="1.50" fill="#f46a54"/>
<rect x="1018.54" y="545.78" width="5.8" height="5.32" fill="#6a1460"/>
<rect x="1018.54" y="544.20" width="5.8" height="1.58" fill="#1f4f4c"/>
<rect x="1018.54" y="539.70" width="5.8" height="4.50" fill="#0a7af0"/>
<rect x="1018.54" y="496.80" width="5.8" height="42.90" fill="#fba02e"/>
<rect x="1018.54" y="356.30" width="5.8" height="140.50" fill="#a5142f"/>
<rect x="1018.54" y="349.00" width="5.8" height="7.30" fill="#9152c0"/>
<rect x="1018.54" y="346.00" width="5.8" height="3.00" fill="#dcc112"/>
<rect x="1028.05" y="572.40" width="5.8" height="15.20" fill="#b21c8c"/>
<rect x="1028.05" y="587.60" width="5.8" height="1.10" fill="#de8a2a"/>
<rect x="1028.05" y="558.00" width="5.8" height="14.40" fill="#a89a10"/>
<rect x="1028.05" y="557.10" width="5.8" height="0.90" fill="#8a1a28"/>
<rect x="1028.05" y="555.60" width="5.8" height="1.50" fill="#f46a54"/>
<rect x="1028.05" y="548.00" width="5.8" height="7.60" fill="#6a1460"/>
<rect x="1028.05" y="546.40" width="5.8" height="1.60" fill="#23472c"/>
<rect x="1028.05" y="543.50" width="5.8" height="2.90" fill="#0a7af0"/>
<rect x="1028.05" y="491.60" width="5.8" height="51.90" fill="#fba02e"/>
<rect x="1028.05" y="77.20" width="5.8" height="414.40" fill="#a5142f"/>
<rect x="1028.05" y="64.80" width="5.8" height="12.40" fill="#9152c0"/>
<rect x="1028.05" y="56.00" width="5.8" height="8.80" fill="#dcc112"/>
</g>
<path d="M3.0 522.8 L12.5 520.6 L22.0 516.8 L31.5 518.3 L41.0 478.3 L50.5 511.2 L60.0 500.1 L69.5 516.8 L79.0 504.5 L88.6 510.8 L98.1 516.8 L107.6 518.6 L117.1 521.7 L126.6 530.1 L136.1 513.0 L145.6 528.6 L155.1 501.9 L164.6 525.7 L174.1 522.8 L183.6 529.0 L193.1 521.9 L202.6 512.3 L212.1 514.1 L221.6 517.9 L231.1 519.7 L240.7 528.6 L250.2 517.2 L259.7 522.8 L269.2 501.2 L278.7 525.0 L288.2 520.8 L297.7 521.2 L307.2 519.5 L316.7 507.9 L326.2 519.0 L335.7 521.7 L345.2 522.8 L354.7 534.6 L364.2 519.0 L373.7 530.1 L383.2 513.4 L392.7 536.1 L402.3 524.6 L411.8 521.2 L421.3 519.7 L430.8 516.8 L440.3 516.3 L449.8 506.3 L459.3 522.4 L468.8 522.4 L478.3 481.7 L487.8 407.0 L497.3 357.0 L506.8 464.5 L516.3 425.5 L525.8 476.7 L535.3 487.2 L544.8 483.4 L554.3 482.3 L563.9 474.5 L573.4 487.9 L582.9 473.8 L592.4 476.7 L601.9 478.9 L611.4 481.2 L620.9 456.7 L630.4 475.6 L639.9 477.8 L649.4 490.1 L658.9 479.6 L668.4 460.5 L677.9 483.4 L687.4 489.0 L696.9 498.3 L706.4 379.7 L716.0 470.0 L725.5 468.9 L735.0 474.5 L744.5 494.1 L754.0 496.3 L763.5 491.9 L773.0 480.1 L782.5 492.3 L792.0 497.2 L801.5 499.0 L811.0 513.0 L820.5 473.4 L830.0 454.5 L839.5 436.8 L849.0 487.9 L858.5 499.6 L868.0 487.4 L877.6 494.5 L887.1 486.7 L896.6 491.6 L906.1 506.3 L915.6 505.7 L925.1 519.0 L934.6 510.8 L944.1 513.4 L953.6 492.3 L963.1 512.3 L972.6 481.8 L982.1 515.2 L991.6 487.9 L1001.1 476.7 L1010.6 470.7 L1020.1 343.0 L1029.6 54.5" fill="none" stroke="#000" stroke-width="2.8" stroke-linejoin="round" stroke-linecap="butt"/>
<rect x="1058.1" y="0" width="66" height="674" fill="#fff"/>
<line x1="1057.6" y1="0" x2="1057.6" y2="642.1" stroke="#000" stroke-width="1.3"/>
<line x1="0" y1="641.5" x2="1057.6" y2="641.5" stroke="#000" stroke-width="1.3"/>
<g stroke="#000" stroke-width="1" shape-rendering="crispEdges">
<line x1="23.5" y1="641.5" x2="23.5" y2="646.0"/>
<line x1="51.5" y1="641.5" x2="51.5" y2="646.0"/>
<line x1="80.5" y1="641.5" x2="80.5" y2="646.0"/>
<line x1="137.5" y1="641.5" x2="137.5" y2="646.0"/>
<line x1="165.5" y1="641.5" x2="165.5" y2="646.0"/>
<line x1="194.5" y1="641.5" x2="194.5" y2="646.0"/>
<line x1="251.5" y1="641.5" x2="251.5" y2="646.0"/>
<line x1="279.5" y1="641.5" x2="279.5" y2="646.0"/>
<line x1="308.5" y1="641.5" x2="308.5" y2="646.0"/>
<line x1="365.5" y1="641.5" x2="365.5" y2="646.0"/>
<line x1="393.5" y1="641.5" x2="393.5" y2="646.0"/>
<line x1="422.5" y1="641.5" x2="422.5" y2="646.0"/>
<line x1="479.5" y1="641.5" x2="479.5" y2="646.0"/>
<line x1="507.5" y1="641.5" x2="507.5" y2="646.0"/>
<line x1="536.5" y1="641.5" x2="536.5" y2="646.0"/>
<line x1="593.5" y1="641.5" x2="593.5" y2="646.0"/>
<line x1="621.5" y1="641.5" x2="621.5" y2="646.0"/>
<line x1="650.5" y1="641.5" x2="650.5" y2="646.0"/>
<line x1="707.5" y1="641.5" x2="707.5" y2="646.0"/>
<line x1="735.5" y1="641.5" x2="735.5" y2="646.0"/>
<line x1="764.5" y1="641.5" x2="764.5" y2="646.0"/>
<line x1="821.5" y1="641.5" x2="821.5" y2="646.0"/>
<line x1="849.5" y1="641.5" x2="849.5" y2="646.0"/>
<line x1="878.5" y1="641.5" x2="878.5" y2="646.0"/>
<line x1="935.5" y1="641.5" x2="935.5" y2="646.0"/>
<line x1="963.5" y1="641.5" x2="963.5" y2="646.0"/>
<line x1="992.5" y1="641.5" x2="992.5" y2="646.0"/>
<line x1="1049.5" y1="641.5" x2="1049.5" y2="646.0"/>
</g>
<g stroke="#6a6a6a" stroke-width="1" shape-rendering="crispEdges">
<line x1="108.5" y1="641.5" x2="108.5" y2="674"/>
<line x1="222.5" y1="641.5" x2="222.5" y2="674"/>
<line x1="336.5" y1="641.5" x2="336.5" y2="674"/>
<line x1="450.5" y1="641.5" x2="450.5" y2="674"/>
<line x1="564.5" y1="641.5" x2="564.5" y2="674"/>
<line x1="678.5" y1="641.5" x2="678.5" y2="674"/>
<line x1="792.5" y1="641.5" x2="792.5" y2="674"/>
<line x1="906.5" y1="641.5" x2="906.5" y2="674"/>
<line x1="1020.5" y1="641.5" x2="1020.5" y2="674"/>
</g>
<text class="t" x="55.5" y="672.2" text-anchor="middle" textLength="27.8" lengthAdjust="spacingAndGlyphs">2016</text>
<text class="t" x="165.5" y="672.2" text-anchor="middle" textLength="27.8" lengthAdjust="spacingAndGlyphs">2017</text>
<text class="t" x="279.5" y="672.2" text-anchor="middle" textLength="27.8" lengthAdjust="spacingAndGlyphs">2018</text>
<text class="t" x="393.5" y="672.2" text-anchor="middle" textLength="27.8" lengthAdjust="spacingAndGlyphs">2019</text>
<text class="t" x="507.5" y="672.2" text-anchor="middle" textLength="27.8" lengthAdjust="spacingAndGlyphs">2020</text>
<text class="t" x="621.5" y="672.2" text-anchor="middle" textLength="27.8" lengthAdjust="spacingAndGlyphs">2021</text>
<text class="t" x="735.5" y="672.2" text-anchor="middle" textLength="27.8" lengthAdjust="spacingAndGlyphs">2022</text>
<text class="t" x="849.5" y="672.2" text-anchor="middle" textLength="27.8" lengthAdjust="spacingAndGlyphs">2023</text>
<text class="t" x="963.5" y="672.2" text-anchor="middle" textLength="27.8" lengthAdjust="spacingAndGlyphs">2024</text>
<text class="t" x="1042.0" y="672.2" text-anchor="middle" textLength="27.8" lengthAdjust="spacingAndGlyphs">2025</text>
<g stroke="#000" stroke-width="1" shape-rendering="crispEdges">
<line x1="1057.6" y1="554.5" x2="1062.4" y2="554.5"/>
<line x1="1057.6" y1="486.5" x2="1062.4" y2="486.5"/>
<line x1="1057.6" y1="418.5" x2="1062.4" y2="418.5"/>
<line x1="1057.6" y1="349.5" x2="1062.4" y2="349.5"/>
<line x1="1057.6" y1="281.5" x2="1062.4" y2="281.5"/>
<line x1="1057.6" y1="213.5" x2="1062.4" y2="213.5"/>
<line x1="1057.6" y1="145.5" x2="1062.4" y2="145.5"/>
<line x1="1057.6" y1="77.5" x2="1062.4" y2="77.5"/>
<line x1="1057.6" y1="622.5" x2="1062.4" y2="622.5"/>
<line x1="1057.6" y1="9.5" x2="1062.4" y2="9.5"/>
</g>
<path d="M1057.6 517.8 L1065.4 520.5 L1057.6 523.2 Z" fill="#000"/>
<text class="t" x="1067.4" y="525.8" textLength="14.2" lengthAdjust="spacingAndGlyphs">5B</text>
<path d="M1057.6 449.8 L1065.4 452.5 L1057.6 455.2 Z" fill="#000"/>
<text class="t" x="1067.4" y="457.8" textLength="21.5" lengthAdjust="spacingAndGlyphs">10B</text>
<path d="M1057.6 381.8 L1065.4 384.5 L1057.6 387.2 Z" fill="#000"/>
<text class="t" x="1067.4" y="389.8" textLength="21.5" lengthAdjust="spacingAndGlyphs">15B</text>
<path d="M1057.6 312.8 L1065.4 315.5 L1057.6 318.2 Z" fill="#000"/>
<text class="t" x="1067.4" y="320.8" textLength="21.5" lengthAdjust="spacingAndGlyphs">20B</text>
<path d="M1057.6 244.8 L1065.4 247.5 L1057.6 250.2 Z" fill="#000"/>
<text class="t" x="1067.4" y="252.8" textLength="21.5" lengthAdjust="spacingAndGlyphs">25B</text>
<path d="M1057.6 176.8 L1065.4 179.5 L1057.6 182.2 Z" fill="#000"/>
<text class="t" x="1067.4" y="184.8" textLength="21.5" lengthAdjust="spacingAndGlyphs">30B</text>
<path d="M1057.6 108.8 L1065.4 111.5 L1057.6 114.2 Z" fill="#000"/>
<text class="t" x="1067.4" y="116.8" textLength="21.5" lengthAdjust="spacingAndGlyphs">35B</text>
<path d="M1057.6 40.8 L1065.4 43.5 L1057.6 46.2 Z" fill="#000"/>
<text class="t" x="1067.4" y="48.8" textLength="21.5" lengthAdjust="spacingAndGlyphs">40B</text>
<path d="M1058.4 64.3 L1064.2 55.9 L1123 55.9 L1123 73.7 Z" fill="#fff"/>
<path d="M1059 65.3 L1064.6 56.9 L1123 56.9 L1123 73.7 L1064.6 73.7 Z" fill="#9152c0"/>
<text x="1066.4" y="70.7" font-size="13.4" fill="#fff" stroke="#fff" stroke-width="0.15" textLength="40" lengthAdjust="spacingAndGlyphs">0.909B</text>
<path d="M1058.4 76.5 L1064.2 68.1 L1123 68.1 L1123 86.0 Z" fill="#fff"/>
<path d="M1059 77.5 L1064.6 69.1 L1123 69.1 L1123 86.0 L1064.6 86.0 Z" fill="#a5142f"/>
<text x="1066.4" y="83.0" font-size="13.4" fill="#fff" stroke="#fff" stroke-width="0.15" textLength="46.2" lengthAdjust="spacingAndGlyphs">30.436B</text>
<path d="M1058.4 491.4 L1064.2 483.0 L1123 483.0 L1123 500.8 Z" fill="#fff"/>
<path d="M1059 492.4 L1064.6 484.0 L1123 484.0 L1123 500.8 L1064.6 500.8 Z" fill="#fba02e"/>
<text x="1066.4" y="497.8" font-size="13.4" fill="#1a1a1a" stroke="#1a1a1a" stroke-width="0.15" textLength="40" lengthAdjust="spacingAndGlyphs">3.791B</text>
<path d="M1058.4 543.3 L1064.2 534.9 L1123 534.9 L1123 552.7 Z" fill="#fff"/>
<path d="M1059 544.3 L1064.6 535.9 L1123 535.9 L1123 552.7 L1064.6 552.7 Z" fill="#0a7af0"/>
<path d="M1058.4 545.5 L1064.2 537.1 L1123 537.1 L1123 554.9 Z" fill="#fff"/>
<path d="M1059 546.5 L1064.6 538.1 L1123 538.1 L1123 554.9 L1064.6 554.9 Z" fill="#6a1460"/>
<text x="1066.4" y="551.9" font-size="13.4" fill="#fff" stroke="#fff" stroke-width="0.15" textLength="40" lengthAdjust="spacingAndGlyphs">0.727B</text>
<path d="M1061.5 547.1 L1123 547.1 L1123 550 L1063 550 Z" fill="#fff"/>
<path d="M1058.4 557.1 L1064.2 548.7 L1123 548.7 L1123 566.5 Z" fill="#fff"/>
<path d="M1059 558.1 L1064.6 549.7 L1123 549.7 L1123 566.5 L1064.6 566.5 Z" fill="#a89a10"/>
<text x="1066.4" y="563.5" font-size="13.4" fill="#1a1a1a" stroke="#1a1a1a" stroke-width="0.15" textLength="40" lengthAdjust="spacingAndGlyphs">1.000B</text>
<path d="M1058.4 571.1 L1064.2 562.7 L1123 562.7 L1123 580.5 Z" fill="#fff"/>
<path d="M1059 572.1 L1064.6 563.7 L1123 563.7 L1123 580.5 L1064.6 580.5 Z" fill="#b21c8c"/>
<text x="1066.4" y="577.5" font-size="13.4" fill="#fff" stroke="#fff" stroke-width="0.15" textLength="40" lengthAdjust="spacingAndGlyphs">1.100B</text>
<path d="M1058.4 586.2 L1064.2 577.8 L1123 577.8 L1123 595.6 Z" fill="#fff"/>
<path d="M1059 587.2 L1064.6 578.8 L1123 578.8 L1123 595.6 L1064.6 595.6 Z" fill="#de8a2a"/>
<text x="1066.4" y="592.6" font-size="13.4" fill="#1a1a1a" stroke="#1a1a1a" stroke-width="0.15" textLength="47.2" lengthAdjust="spacingAndGlyphs">72.279M</text>
<path d="M1058.4 53.4 L1064.2 45.0 L1123 45.0 L1123 62.8 Z" fill="#fff"/>
<path d="M1059 54.4 L1064.6 46.0 L1123 46.0 L1123 62.8 L1064.6 62.8 Z" fill="#000"/>
<text x="1066.4" y="59.8" font-size="13.4" fill="#fff" stroke="#fff" stroke-width="0.15" textLength="46.2" lengthAdjust="spacingAndGlyphs">39.173B</text>
<text class="ttl" x="567.8" y="89" textLength="282.5" lengthAdjust="spacingAndGlyphs" filter="url(#ts)">US Gold imports</text>
<rect x="0.5" y="2.5" width="424" height="303" rx="3" ry="3" fill="#fff" stroke="#0c0c0c" stroke-width="1"/>
<rect x="9.1" y="12.3" width="11.7" height="11.5" fill="#000000"/>
<text class="t" x="25.6" y="23.9" textLength="176.7" lengthAdjust="spacingAndGlyphs">Nat Etc Pearls, Prec Etc Ston</text>
<text class="t" x="362.2" y="23.9" textLength="46.8" lengthAdjust="spacingAndGlyphs">39.173B</text>
<rect x="9.1" y="28.3" width="11.7" height="11.5" fill="#de8a2a"/>
<text class="t" x="25.6" y="39.9" textLength="173.0" lengthAdjust="spacingAndGlyphs">Synth Prec Or Semiprec Ston</text>
<text class="t" x="362.2" y="39.9" textLength="47.8" lengthAdjust="spacingAndGlyphs">72.279M</text>
<rect x="9.1" y="44.3" width="11.7" height="11.5" fill="#b21c8c"/>
<text class="t" x="25.6" y="55.9" textLength="276.4" lengthAdjust="spacingAndGlyphs">Diamonds, Worked Or Not, Not Mounted Or Set</text>
<text class="t" x="362.2" y="55.9" textLength="39.3" lengthAdjust="spacingAndGlyphs">1.100B</text>
<rect x="9.1" y="60.3" width="11.7" height="11.5" fill="#26bb44"/>
<text class="t" x="25.6" y="71.9" textLength="246.6" lengthAdjust="spacingAndGlyphs">Pearls, Natural Or Cultured, Not Strung O</text>
<text class="t" x="362.2" y="71.9" textLength="40.3" lengthAdjust="spacingAndGlyphs">6.779M</text>
<rect x="9.1" y="76.3" width="11.7" height="11.5" fill="#5b2a7a"/>
<text class="t" x="25.6" y="87.9" textLength="310.0" lengthAdjust="spacingAndGlyphs">Bs Mtl A Slv A Gld Cld W Plat Nt Fr Wkd Th Smnfctd</text>
<text class="t" x="362.2" y="87.9" textLength="45.6" lengthAdjust="spacingAndGlyphs">5291.00</text>
<rect x="9.1" y="92.3" width="11.7" height="11.5" fill="#a89a10"/>
<text class="t" x="25.6" y="103.9" textLength="290.7" lengthAdjust="spacingAndGlyphs">Articles Of Jewelry &amp; Pts, Of Prec Metal Or Clad</text>
<text class="t" x="362.2" y="103.9" textLength="39.3" lengthAdjust="spacingAndGlyphs">1.000B</text>
<rect x="9.1" y="108.3" width="11.7" height="11.5" fill="#0e5a6a"/>
<text class="t" x="25.6" y="119.9" textLength="308.7" lengthAdjust="spacingAndGlyphs">Articles Of Nat Or Cult Pearls, Prec/Semprc Stones</text>
<text class="t" x="362.2" y="119.9" textLength="47.8" lengthAdjust="spacingAndGlyphs">98.849M</text>
<rect x="9.1" y="124.3" width="11.7" height="11.5" fill="#8a1a28"/>
<text class="t" x="25.6" y="135.9" textLength="297.6" lengthAdjust="spacingAndGlyphs">Base Mtls Cld W Silvr Nt Frth Wkd Thn Smmnfctrd</text>
<text class="t" x="362.2" y="135.9" textLength="52.5" lengthAdjust="spacingAndGlyphs">93401.00</text>
<rect x="9.1" y="140.3" width="11.7" height="11.5" fill="#f46a54"/>
<text class="t" x="25.6" y="151.9" textLength="105.0" lengthAdjust="spacingAndGlyphs">Imitation Jewelry</text>
<text class="t" x="362.2" y="151.9" textLength="47.8" lengthAdjust="spacingAndGlyphs">88.598M</text>
<rect x="9.1" y="156.3" width="11.7" height="11.5" fill="#6a1460"/>
<text class="t" x="25.6" y="167.9" textLength="329.8" lengthAdjust="spacingAndGlyphs">Platinum, Unwrought, Semimfr Forms Or In Powder Fm</text>
<text class="t" x="362.2" y="167.9" textLength="39.3" lengthAdjust="spacingAndGlyphs">0.727B</text>
<rect x="9.1" y="172.3" width="11.7" height="11.5" fill="#106a22"/>
<text class="t" x="25.6" y="183.9" textLength="309.1" lengthAdjust="spacingAndGlyphs">Articles Of Goldsmith/Silversmith Wares, Prec Metl</text>
<text class="t" x="362.2" y="183.9" textLength="40.3" lengthAdjust="spacingAndGlyphs">3.167M</text>
<rect x="9.1" y="188.3" width="11.7" height="11.5" fill="#0a7af0"/>
<text class="t" x="25.6" y="199.9" textLength="23.6" lengthAdjust="spacingAndGlyphs">Coin</text>
<text class="t" x="362.2" y="199.9" textLength="53.8" lengthAdjust="spacingAndGlyphs">165.116M</text>
<rect x="9.1" y="204.3" width="11.7" height="11.5" fill="#fba02e"/>
<text class="t" x="25.6" y="215.9" textLength="302.2" lengthAdjust="spacingAndGlyphs">Gold (Incl Plat Plated), Unwr, Semimfr Or Powder</text>
<text class="t" x="362.2" y="215.9" textLength="39.3" lengthAdjust="spacingAndGlyphs">3.791B</text>
<rect x="9.1" y="220.3" width="11.7" height="11.5" fill="#a5142f"/>
<text class="t" x="25.6" y="231.9" textLength="273.3" lengthAdjust="spacingAndGlyphs">Articles Of Or Clad With Precious Metal Nesoi</text>
<text class="t" x="362.2" y="231.9" textLength="46.8" lengthAdjust="spacingAndGlyphs">30.436B</text>
<rect x="9.1" y="236.3" width="11.7" height="11.5" fill="#0c4fb0"/>
<text class="t" x="25.6" y="247.9" textLength="299.0" lengthAdjust="spacingAndGlyphs">Bs Mtl Or Slr Cld W Gld Nt Frtr Wkd Th Smmnfctrd</text>
<text class="t" x="362.2" y="247.9" textLength="40.3" lengthAdjust="spacingAndGlyphs">0.169M</text>
<rect x="9.1" y="252.3" width="11.7" height="11.5" fill="#b04a18"/>
<text class="t" x="25.6" y="263.9" textLength="319.7" lengthAdjust="spacingAndGlyphs">Dust &amp; Powder Of Nat Or Synth Prec Or Semipr Stone</text>
<text class="t" x="362.2" y="263.9" textLength="40.3" lengthAdjust="spacingAndGlyphs">5.163M</text>
<rect x="9.1" y="268.3" width="11.7" height="11.5" fill="#9152c0"/>
<text class="t" x="25.6" y="279.9" textLength="312.8" lengthAdjust="spacingAndGlyphs">Silver (Incl Prec Plated), Unwr, Semimfr Or Powder</text>
<text class="t" x="362.2" y="279.9" textLength="39.3" lengthAdjust="spacingAndGlyphs">0.909B</text>
<rect x="9.1" y="284.3" width="11.7" height="11.5" fill="#dcc112"/>
<text class="t" x="25.6" y="295.9" textLength="155.1" lengthAdjust="spacingAndGlyphs">Precious Nesoi &amp; Semipre</text>
<text class="t" x="362.2" y="295.9" textLength="39.3" lengthAdjust="spacingAndGlyphs">0.653B</text>
<ellipse cx="212" cy="225.2" rx="209.7" ry="12.4" fill="none" stroke="#ef3b3d" stroke-width="2.5" filter="url(#es)"/>
</svg></body></html>
